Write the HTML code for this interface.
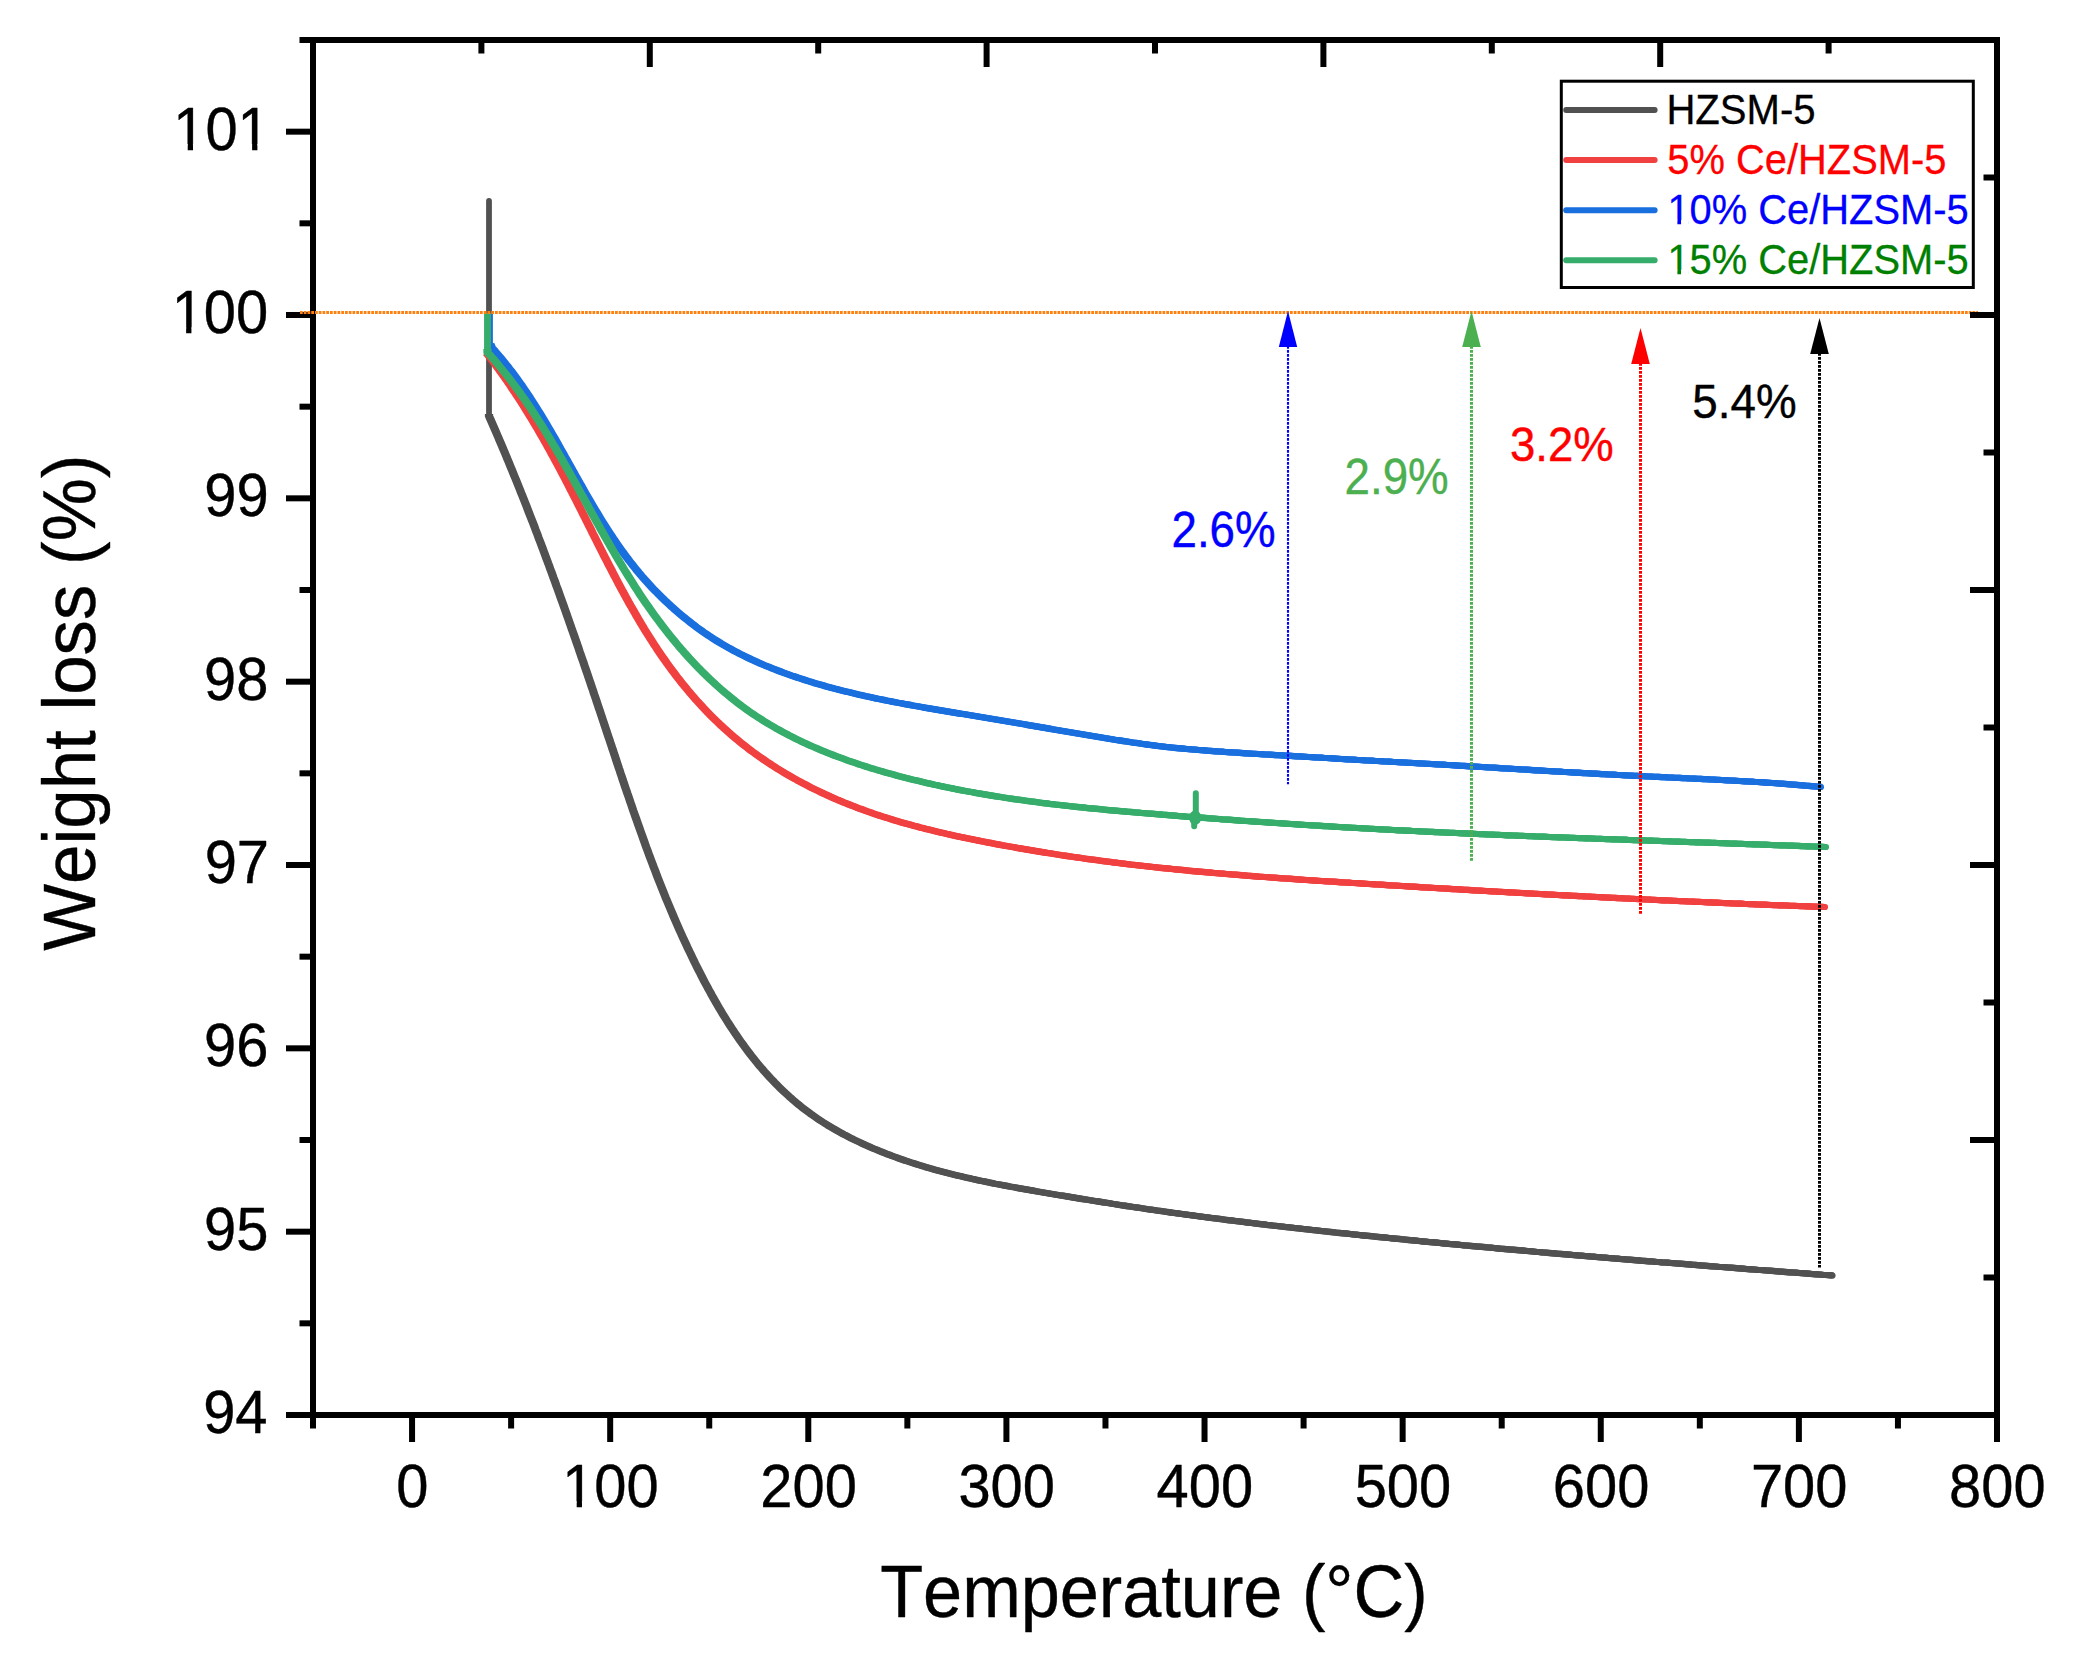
<!DOCTYPE html>
<html lang="en">
<head>
<meta charset="utf-8">
<title>TGA weight loss curves</title>
<style>
html,body{margin:0;padding:0;background:#fff;}
body{width:2081px;height:1671px;overflow:hidden;}
svg{display:block;}
</style>
</head>
<body>
<svg width="2081" height="1671" viewBox="0 0 2081 1671">
<rect x="0" y="0" width="2081" height="1671" fill="#ffffff"/>
<path d="M489 201 L489 418" fill="none" stroke="#515151" stroke-width="5.8" stroke-linecap="round"/>
<g fill="none" stroke="#515151" stroke-width="6.2" stroke-linejoin="round" stroke-linecap="butt">
<path d="M489.0 414.0 L489.0 416.0 L490.2 418.7 L491.4 421.4 L492.6 424.2 L493.8 426.9 L494.9 429.6 L496.1 432.3 L497.3 435.1 L498.5 437.8 L499.6 440.5 L500.8 443.3 L502.0 446.0 L503.1 448.8 L504.3 451.5 L505.4 454.2 L506.6 457.0 L507.7 459.8 L508.9 462.5 L510.0 465.3 L511.1 468.0 L512.3 470.8 L513.4 473.6 L514.5 476.3 L515.7 479.1 L516.8 481.9 L517.9 484.6 L519.0 487.4 L520.1 490.2 L521.2 493.0 L522.4 495.8 L523.5 498.6 L524.6 501.3 L525.7 504.1 L526.8 506.9 L527.8 509.7 L528.9 512.5 L530.0 515.3 L531.1 518.1 L532.2 520.9 L533.3 523.7 L534.4 526.5 L535.4 529.3 L536.5 532.1 L537.6 534.9 L538.6 537.8 L539.7 540.6 L540.8 543.4 L541.8 546.2 L542.9 549.0 L543.9 551.8 L545.0 554.7 L546.0 557.5 L547.1 560.3 L548.1 563.1 L549.2 565.9 L550.2 568.8 L551.3 571.6 L552.3 574.4 L553.3 577.3 L554.4 580.1 L555.4 582.9 L556.4 585.8 L557.5 588.6 L558.5 591.4 L559.5 594.3 L560.5 597.1 L561.5 599.9 L562.6 602.8 L563.6 605.6 L564.6 608.5 L565.6 611.3 L566.6 614.1 L567.6 617.0 L568.6 619.8 L569.6 622.7 L570.6 625.5 L571.6 628.4 L572.6 631.2 L573.6 634.1 L574.6 636.9 L575.6 639.8 L576.6 642.6 L577.6 645.5 L578.6 648.3 L579.5 651.2 L580.5 654.0 L581.5 656.9 L582.5 659.7 L583.5 662.6 L584.4 665.4 L585.4 668.3 L586.4 671.1 L587.4 674.0 L588.3 676.8 L589.3 679.7 L590.3 682.5 L591.2 685.4 L592.2 688.2 L593.2 691.1 L594.1 694.0 L595.1 696.8 L596.1 699.7 L597.0 702.5 L598.0 705.4 L598.9 708.2 L599.9 711.1 L600.8 713.9 L601.8 716.8 L602.7 719.6 L603.7 722.5 L604.6 725.3 L605.6 728.2 L606.5 731.0 L607.5 733.9 L608.4 736.7 L609.4 739.6 L610.3 742.4 L611.3 745.3 L612.2 748.1 L613.2 750.9 L614.1 753.8 L615.1 756.6 L616.0 759.5 L616.9 762.3 L617.9 765.2 L618.8 768.0 L619.8 770.8 L620.7 773.7 L621.7 776.5 L622.6 779.4 L623.6 782.2 L624.5 785.0 L625.5 787.9 L626.5 790.7 L627.4 793.5 L628.4 796.3 L629.4 799.2 L630.3 802.0 L631.3 804.8 L632.3 807.7 L633.2 810.5 L634.2 813.3 L635.2 816.1 L636.2 818.9 L637.2 821.8 L638.2 824.6 L639.2 827.4 L640.2 830.2 L641.2 833.0 L642.2 835.8 L643.2 838.6 L644.2 841.4 L645.2 844.3 L646.2 847.1 L647.3 849.9 L648.3 852.7 L649.3 855.5 L650.4 858.3 L651.4 861.0 L652.5 863.8 L653.5 866.6 L654.6 869.4 L655.7 872.2 L656.7 875.0 L657.8 877.8 L658.9 880.6 L660.0 883.3 L661.1 886.1 L662.2 888.9 L663.3 891.7 L664.4 894.4 L665.5 897.2 L666.7 900.0 L667.8 902.7 L669.0 905.5 L670.1 908.2 L671.3 911.0 L672.5 913.8 L673.6 916.5 L674.8 919.3 L676.0 922.0 L677.2 924.7 L678.4 927.5 L679.6 930.2 L680.9 933.0 L682.1 935.7 L683.3 938.4 L684.6 941.1 L685.9 943.9 L687.1 946.6 L688.4 949.3 L689.7 952.0 L691.0 954.7 L692.3 957.5 L693.6 960.2 L694.9 962.9 L696.3 965.6 L697.6 968.3 L699.0 971.0 L700.4 973.6 L701.7 976.3 L703.1 979.0 L704.5 981.7 L706.0 984.4 L707.4 987.0 L708.8 989.7 L710.3 992.3 L711.7 995.0 L713.2 997.6 L714.7 1000.3 L716.2 1002.9 L717.7 1005.5 L719.2 1008.1 L720.8 1010.7 L722.3 1013.3 L723.9 1015.9 L725.5 1018.4 L727.1 1021.0 L728.7 1023.5 L730.3 1026.0 L732.0 1028.6 L733.7 1031.1 L735.3 1033.6 L737.0 1036.1 L738.7 1038.5 L740.4 1041.0 L742.2 1043.4 L743.9 1045.8 L745.7 1048.3 L747.5 1050.7 L749.3 1053.0 L751.1 1055.4 L753.0 1057.7 L754.9 1060.1 L756.7 1062.4 L758.6 1064.7 L760.5 1067.0 L762.5 1069.2 L764.4 1071.5 L766.4 1073.7 L768.4 1075.9 L770.4 1078.1 L772.5 1080.2 L774.5 1082.4 L776.6 1084.5 L778.7 1086.6 L780.8 1088.7 L782.9 1090.7 L785.1 1092.8 L787.3 1094.8 L789.5 1096.8 L791.7 1098.7 L793.9 1100.7 L796.2 1102.6 L798.5 1104.5 L800.8 1106.4 L803.1 1108.2 L805.5 1110.0 L807.9 1111.8 L810.3 1113.6 L812.7 1115.3 L815.2 1117.0 L817.6 1118.7 L820.1 1120.4 L822.6 1122.0 L825.2 1123.6 L827.7 1125.2 L830.3 1126.7 L832.9 1128.3 L835.5 1129.8 L838.1 1131.3 L840.8 1132.7 L843.4 1134.2 L846.1 1135.6 L848.8 1137.0 L851.5 1138.4 L854.2 1139.7 L856.9 1141.0 L859.7 1142.3 L862.4 1143.6 L865.2 1144.9 L868.0 1146.1 L870.8 1147.4 L873.6 1148.6 L876.4 1149.7 L879.2 1150.9 L882.0 1152.0 L884.9 1153.2 L887.7 1154.3 L890.6 1155.3 L893.4 1156.4 L896.3 1157.4 L899.2 1158.5 L902.1 1159.5 L904.9 1160.5 L907.8 1161.4 L910.7 1162.4 L913.6 1163.3 L916.5 1164.2 L919.4 1165.1 L922.3 1166.0 L925.2 1166.9 L928.1 1167.7 L931.0 1168.6 L933.9 1169.4 L936.8 1170.2 L939.7 1171.0 L942.6 1171.7 L945.5 1172.5 L948.4 1173.3 L951.3 1174.0 L954.2 1174.7 L957.1 1175.4 L960.0 1176.1 L962.9 1176.8 L965.8 1177.5 L968.8 1178.1 L971.7 1178.8 L974.6 1179.4 L977.5 1180.1 L980.4 1180.7 L983.3 1181.3 L986.2 1181.9 L989.2 1182.5 L992.1 1183.1 L995.0 1183.7 L997.9 1184.2 L1000.8 1184.8 L1003.8 1185.4 L1006.7 1185.9 L1009.6 1186.5 L1012.5 1187.0 L1015.5 1187.5 L1018.4 1188.1 L1021.3 1188.6 L1024.2 1189.1 L1027.2 1189.6 L1030.1 1190.1 L1033.0 1190.6 L1036.0 1191.2 L1038.9 1191.7 L1041.8 1192.2 L1044.8 1192.7 L1047.7 1193.2 L1050.6 1193.7 L1053.6 1194.2 L1056.5 1194.7 L1059.4 1195.2 L1062.4 1195.6 L1065.3 1196.1 L1068.3 1196.6 L1071.2 1197.1 L1074.1 1197.6 L1077.1 1198.1 L1080.0 1198.6 L1083.0 1199.1 L1085.9 1199.5 L1088.9 1200.0 L1091.8 1200.5 L1094.7 1201.0 L1097.7 1201.4 L1100.6 1201.9 L1103.6 1202.4 L1106.5 1202.8 L1109.5 1203.3 L1112.4 1203.8 L1115.4 1204.2 L1118.3 1204.7 L1121.3 1205.2 L1124.3 1205.6 L1127.2 1206.1 L1130.2 1206.5 L1133.1 1207.0 L1136.1 1207.4 L1139.0 1207.8 L1142.0 1208.3 L1144.9 1208.7 L1147.9 1209.2 L1150.9 1209.6 L1153.8 1210.0 L1156.8 1210.5 L1159.7 1210.9 L1162.7 1211.3 L1165.7 1211.7 L1168.6 1212.1 L1171.6 1212.6 L1174.6 1213.0 L1177.5 1213.4 L1180.5 1213.8 L1183.4 1214.2 L1186.4 1214.6 L1189.4 1215.0 L1192.3 1215.4 L1195.3 1215.8 L1198.3 1216.2 L1201.2 1216.6 L1204.2 1217.0 L1207.2 1217.4 L1210.2 1217.8 L1213.1 1218.2 L1216.1 1218.5 L1219.1 1218.9 L1222.0 1219.3 L1225.0 1219.7 L1228.0 1220.1 L1231.0 1220.4 L1233.9 1220.8 L1236.9 1221.2 L1239.9 1221.5 L1242.9 1221.9 L1245.8 1222.3 L1248.8 1222.6 L1251.8 1223.0 L1254.8 1223.4 L1257.7 1223.7 L1260.7 1224.1 L1263.7 1224.4 L1266.7 1224.8 L1269.7 1225.1 L1272.6 1225.5 L1275.6 1225.8 L1278.6 1226.2 L1281.6 1226.5 L1284.6 1226.9 L1287.5 1227.2 L1290.5 1227.5 L1293.5 1227.9 L1296.5 1228.2 L1299.5 1228.5 L1302.5 1228.9 L1305.4 1229.2 L1308.4 1229.5 L1311.4 1229.9 L1314.4 1230.2 L1317.4 1230.5 L1320.4 1230.9 L1323.4 1231.2 L1326.3 1231.5 L1329.3 1231.8 L1332.3 1232.1 L1335.3 1232.5 L1338.3 1232.8 L1341.3 1233.1 L1344.3 1233.4 L1347.3 1233.7 L1350.2 1234.0 L1353.2 1234.4 L1356.2 1234.7 L1359.2 1235.0 L1362.2 1235.3 L1365.2 1235.6 L1368.2 1235.9 L1371.2 1236.2 L1374.2 1236.5 L1377.2 1236.8 L1380.2 1237.1 L1383.1 1237.4 L1386.1 1237.7 L1389.1 1238.0 L1392.1 1238.3 L1395.1 1238.6 L1398.1 1238.9 L1401.1 1239.2 L1404.1 1239.5 L1407.1 1239.8 L1410.1 1240.1 L1413.1 1240.4 L1416.1 1240.7 L1419.1 1241.0 L1422.1 1241.3 L1425.0 1241.6 L1428.0 1241.9 L1431.0 1242.1 L1434.0 1242.4 L1437.0 1242.7 L1440.0 1243.0 L1443.0 1243.3 L1446.0 1243.6 L1449.0 1243.9 L1452.0 1244.1 L1455.0 1244.4 L1458.0 1244.7 L1461.0 1245.0 L1464.0 1245.3 L1467.0 1245.5 L1470.0 1245.8 L1473.0 1246.1 L1476.0 1246.4 L1479.0 1246.6 L1482.0 1246.9 L1485.0 1247.2 L1488.0 1247.5 L1491.0 1247.7 L1494.0 1248.0 L1497.0 1248.3 L1500.0 1248.6 L1502.9 1248.8 L1505.9 1249.1 L1508.9 1249.4 L1511.9 1249.6 L1514.9 1249.9 L1517.9 1250.2 L1520.9 1250.4 L1523.9 1250.7 L1526.9 1251.0 L1529.9 1251.2 L1532.9 1251.5 L1535.9 1251.8 L1538.9 1252.0 L1541.9 1252.3 L1544.9 1252.5 L1547.9 1252.8 L1550.9 1253.1 L1553.9 1253.3 L1556.9 1253.6 L1559.9 1253.8 L1562.9 1254.1 L1565.9 1254.3 L1568.9 1254.6 L1571.9 1254.9 L1574.9 1255.1 L1577.9 1255.4 L1580.9 1255.6 L1583.9 1255.9 L1586.9 1256.1 L1589.9 1256.4 L1592.9 1256.6 L1595.8 1256.9 L1598.8 1257.1 L1601.8 1257.4 L1604.8 1257.6 L1607.8 1257.9 L1610.8 1258.1 L1613.8 1258.4 L1616.8 1258.6 L1619.8 1258.9 L1622.8 1259.1 L1625.8 1259.4 L1628.8 1259.6 L1631.8 1259.8 L1634.8 1260.1 L1637.8 1260.3 L1640.8 1260.6 L1643.8 1260.8 L1646.8 1261.1 L1649.7 1261.3 L1652.7 1261.5 L1655.7 1261.8 L1658.7 1262.0 L1661.7 1262.3 L1664.7 1262.5 L1667.7 1262.7 L1670.7 1263.0 L1673.7 1263.2 L1676.7 1263.5 L1679.7 1263.7 L1682.7 1263.9 L1685.6 1264.2 L1688.6 1264.4 L1691.6 1264.7 L1694.6 1264.9 L1697.6 1265.1 L1700.6 1265.4 L1703.6 1265.6 L1706.6 1265.8 L1709.6 1266.1 L1712.5 1266.3 L1715.5 1266.5 L1718.5 1266.8 L1721.5 1267.0 L1724.5 1267.2 L1727.5 1267.5 L1730.5 1267.7 L1733.4 1267.9 L1736.4 1268.2 L1739.4 1268.4 L1742.4 1268.6 L1745.4 1268.9 L1748.4 1269.1 L1751.3 1269.3 L1754.3 1269.5 L1757.3 1269.8 L1760.3 1270.0 L1763.3 1270.2 L1766.3 1270.5 L1769.2 1270.7 L1772.2 1270.9 L1775.2 1271.1 L1778.2 1271.4 L1781.2 1271.6 L1784.1 1271.8 L1787.1 1272.1 L1790.1 1272.3 L1793.1 1272.5 L1796.0 1272.7 L1799.0 1273.0 L1802.0 1273.2 L1805.0 1273.4 L1807.9 1273.6 L1810.9 1273.9 L1813.9 1274.1 L1816.9 1274.3 L1819.8 1274.5 L1822.8 1274.8 L1825.8 1275.0 L1828.8 1275.2 L1831.7 1275.4 L1832.5 1275.5"/>
<path transform="translate(-1.05 0)" d="M489.0 414.0 L489.0 416.0 L490.2 418.7 L491.4 421.4 L492.6 424.2 L493.8 426.9 L494.9 429.6 L496.1 432.3 L497.3 435.1 L498.5 437.8 L499.6 440.5 L500.8 443.3 L502.0 446.0 L503.1 448.8 L504.3 451.5 L505.4 454.2 L506.6 457.0 L507.7 459.8 L508.9 462.5 L510.0 465.3 L511.1 468.0 L512.3 470.8 L513.4 473.6 L514.5 476.3 L515.7 479.1 L516.8 481.9 L517.9 484.6 L519.0 487.4 L520.1 490.2 L521.2 493.0 L522.4 495.8 L523.5 498.6 L524.6 501.3 L525.7 504.1 L526.8 506.9 L527.8 509.7 L528.9 512.5 L530.0 515.3 L531.1 518.1 L532.2 520.9 L533.3 523.7 L534.4 526.5 L535.4 529.3 L536.5 532.1 L537.6 534.9 L538.6 537.8 L539.7 540.6 L540.8 543.4 L541.8 546.2 L542.9 549.0 L543.9 551.8 L545.0 554.7 L546.0 557.5 L547.1 560.3 L548.1 563.1 L549.2 565.9 L550.2 568.8 L551.3 571.6 L552.3 574.4 L553.3 577.3 L554.4 580.1 L555.4 582.9 L556.4 585.8 L557.5 588.6 L558.5 591.4 L559.5 594.3 L560.5 597.1 L561.5 599.9 L562.6 602.8 L563.6 605.6 L564.6 608.5 L565.6 611.3 L566.6 614.1 L567.6 617.0 L568.6 619.8 L569.6 622.7 L570.6 625.5 L571.6 628.4 L572.6 631.2 L573.6 634.1 L574.6 636.9 L575.6 639.8 L576.6 642.6 L577.6 645.5 L578.6 648.3 L579.5 651.2 L580.5 654.0 L581.5 656.9 L582.5 659.7 L583.5 662.6 L584.4 665.4 L585.4 668.3 L586.4 671.1 L587.4 674.0 L588.3 676.8 L589.3 679.7 L590.3 682.5 L591.2 685.4 L592.2 688.2 L593.2 691.1 L594.1 694.0 L595.1 696.8 L596.1 699.7 L597.0 702.5 L598.0 705.4 L598.9 708.2 L599.9 711.1 L600.8 713.9 L601.8 716.8 L602.7 719.6 L603.7 722.5 L604.6 725.3 L605.6 728.2 L606.5 731.0 L607.5 733.9 L608.4 736.7 L609.4 739.6 L610.3 742.4 L611.3 745.3 L612.2 748.1 L613.2 750.9 L614.1 753.8 L615.1 756.6 L616.0 759.5 L616.9 762.3 L617.9 765.2 L618.8 768.0 L619.8 770.8 L620.7 773.7 L621.7 776.5 L622.6 779.4 L623.6 782.2 L624.5 785.0 L625.5 787.9 L626.5 790.7 L627.4 793.5 L628.4 796.3 L629.4 799.2 L630.3 802.0 L631.3 804.8 L632.3 807.7 L633.2 810.5 L634.2 813.3 L635.2 816.1 L636.2 818.9 L637.2 821.8 L638.2 824.6 L639.2 827.4 L640.2 830.2 L641.2 833.0 L642.2 835.8 L643.2 838.6 L644.2 841.4 L645.2 844.3 L646.2 847.1 L647.3 849.9 L648.3 852.7 L649.3 855.5 L650.4 858.3 L651.4 861.0 L652.5 863.8 L653.5 866.6 L654.6 869.4 L655.7 872.2 L656.7 875.0 L657.8 877.8 L658.9 880.6 L660.0 883.3 L661.1 886.1 L662.2 888.9 L663.3 891.7 L664.4 894.4 L665.5 897.2 L666.7 900.0 L667.8 902.7 L669.0 905.5 L670.1 908.2 L671.3 911.0 L672.5 913.8 L673.6 916.5 L674.8 919.3 L676.0 922.0 L677.2 924.7 L678.4 927.5 L679.6 930.2 L680.9 933.0 L682.1 935.7 L683.3 938.4 L684.6 941.1 L685.9 943.9 L687.1 946.6 L688.4 949.3 L689.7 952.0 L691.0 954.7 L692.3 957.5 L693.6 960.2 L694.9 962.9 L696.3 965.6 L697.6 968.3 L699.0 971.0 L700.4 973.6 L701.7 976.3 L703.1 979.0 L704.5 981.7 L706.0 984.4 L707.4 987.0 L708.8 989.7 L710.3 992.3 L711.7 995.0 L713.2 997.6 L714.7 1000.3 L716.2 1002.9 L717.7 1005.5 L719.2 1008.1 L720.8 1010.7 L722.3 1013.3 L723.9 1015.9 L725.5 1018.4 L727.1 1021.0 L728.7 1023.5 L730.3 1026.0 L732.0 1028.6 L733.7 1031.1 L735.3 1033.6 L737.0 1036.1 L738.7 1038.5 L740.4 1041.0 L742.2 1043.4 L743.9 1045.8 L745.7 1048.3 L747.5 1050.7 L749.3 1053.0 L751.1 1055.4 L753.0 1057.7 L754.9 1060.1 L756.7 1062.4 L758.6 1064.7 L760.5 1067.0 L762.5 1069.2 L764.4 1071.5 L766.4 1073.7 L768.4 1075.9 L770.4 1078.1 L772.5 1080.2 L774.5 1082.4 L776.6 1084.5 L778.7 1086.6 L780.8 1088.7 L782.9 1090.7 L785.1 1092.8 L787.3 1094.8 L789.5 1096.8 L791.7 1098.7 L793.9 1100.7 L796.2 1102.6 L798.5 1104.5 L800.8 1106.4 L803.1 1108.2 L805.5 1110.0 L807.9 1111.8 L810.3 1113.6 L812.7 1115.3 L815.2 1117.0 L817.6 1118.7 L820.1 1120.4 L822.6 1122.0 L825.2 1123.6 L827.7 1125.2 L830.3 1126.7 L832.9 1128.3 L835.5 1129.8 L838.1 1131.3 L840.8 1132.7 L843.4 1134.2 L846.1 1135.6 L848.8 1137.0 L851.5 1138.4 L854.2 1139.7 L856.9 1141.0 L859.7 1142.3 L862.4 1143.6 L865.2 1144.9 L868.0 1146.1 L870.8 1147.4 L873.6 1148.6 L876.4 1149.7 L879.2 1150.9 L882.0 1152.0 L884.9 1153.2 L887.7 1154.3 L890.6 1155.3 L893.4 1156.4 L896.3 1157.4 L899.2 1158.5 L902.1 1159.5 L904.9 1160.5 L907.8 1161.4 L910.7 1162.4 L913.6 1163.3 L916.5 1164.2 L919.4 1165.1 L922.3 1166.0 L925.2 1166.9 L928.1 1167.7 L931.0 1168.6 L933.9 1169.4 L936.8 1170.2 L939.7 1171.0 L942.6 1171.7 L945.5 1172.5 L948.4 1173.3 L951.3 1174.0 L954.2 1174.7 L957.1 1175.4 L960.0 1176.1 L962.9 1176.8 L965.8 1177.5 L968.8 1178.1 L971.7 1178.8 L974.6 1179.4 L977.5 1180.1 L980.4 1180.7 L983.3 1181.3 L986.2 1181.9 L989.2 1182.5 L992.1 1183.1 L995.0 1183.7 L997.9 1184.2 L1000.8 1184.8 L1003.8 1185.4 L1006.7 1185.9 L1009.6 1186.5 L1012.5 1187.0 L1015.5 1187.5 L1018.4 1188.1 L1021.3 1188.6 L1024.2 1189.1 L1027.2 1189.6 L1030.1 1190.1 L1033.0 1190.6 L1036.0 1191.2 L1038.9 1191.7 L1041.8 1192.2 L1044.8 1192.7 L1047.7 1193.2 L1050.6 1193.7 L1053.6 1194.2 L1056.5 1194.7 L1059.4 1195.2 L1062.4 1195.6 L1065.3 1196.1 L1068.3 1196.6 L1071.2 1197.1 L1074.1 1197.6 L1077.1 1198.1 L1080.0 1198.6 L1083.0 1199.1 L1085.9 1199.5 L1088.9 1200.0 L1091.8 1200.5 L1094.7 1201.0 L1097.7 1201.4 L1100.6 1201.9 L1103.6 1202.4 L1106.5 1202.8 L1109.5 1203.3 L1112.4 1203.8 L1115.4 1204.2 L1118.3 1204.7 L1121.3 1205.2 L1124.3 1205.6 L1127.2 1206.1 L1130.2 1206.5 L1133.1 1207.0 L1136.1 1207.4 L1139.0 1207.8 L1142.0 1208.3 L1144.9 1208.7 L1147.9 1209.2 L1150.9 1209.6 L1153.8 1210.0 L1156.8 1210.5 L1159.7 1210.9 L1162.7 1211.3 L1165.7 1211.7 L1168.6 1212.1 L1171.6 1212.6 L1174.6 1213.0 L1177.5 1213.4 L1180.5 1213.8 L1183.4 1214.2 L1186.4 1214.6 L1189.4 1215.0 L1192.3 1215.4 L1195.3 1215.8 L1198.3 1216.2 L1201.2 1216.6 L1204.2 1217.0 L1207.2 1217.4 L1210.2 1217.8 L1213.1 1218.2 L1216.1 1218.5 L1219.1 1218.9 L1222.0 1219.3 L1225.0 1219.7 L1228.0 1220.1 L1231.0 1220.4 L1233.9 1220.8 L1236.9 1221.2 L1239.9 1221.5 L1242.9 1221.9 L1245.8 1222.3 L1248.8 1222.6 L1251.8 1223.0 L1254.8 1223.4 L1257.7 1223.7 L1260.7 1224.1 L1263.7 1224.4 L1266.7 1224.8 L1269.7 1225.1 L1272.6 1225.5 L1275.6 1225.8 L1278.6 1226.2 L1281.6 1226.5 L1284.6 1226.9 L1287.5 1227.2 L1290.5 1227.5 L1293.5 1227.9 L1296.5 1228.2 L1299.5 1228.5 L1302.5 1228.9 L1305.4 1229.2 L1308.4 1229.5 L1311.4 1229.9 L1314.4 1230.2 L1317.4 1230.5 L1320.4 1230.9 L1323.4 1231.2 L1326.3 1231.5 L1329.3 1231.8 L1332.3 1232.1 L1335.3 1232.5 L1338.3 1232.8 L1341.3 1233.1 L1344.3 1233.4 L1347.3 1233.7 L1350.2 1234.0 L1353.2 1234.4 L1356.2 1234.7 L1359.2 1235.0 L1362.2 1235.3 L1365.2 1235.6 L1368.2 1235.9 L1371.2 1236.2 L1374.2 1236.5 L1377.2 1236.8 L1380.2 1237.1 L1383.1 1237.4 L1386.1 1237.7 L1389.1 1238.0 L1392.1 1238.3 L1395.1 1238.6 L1398.1 1238.9 L1401.1 1239.2 L1404.1 1239.5 L1407.1 1239.8 L1410.1 1240.1 L1413.1 1240.4 L1416.1 1240.7 L1419.1 1241.0 L1422.1 1241.3 L1425.0 1241.6 L1428.0 1241.9 L1431.0 1242.1 L1434.0 1242.4 L1437.0 1242.7 L1440.0 1243.0 L1443.0 1243.3 L1446.0 1243.6 L1449.0 1243.9 L1452.0 1244.1 L1455.0 1244.4 L1458.0 1244.7 L1461.0 1245.0 L1464.0 1245.3 L1467.0 1245.5 L1470.0 1245.8 L1473.0 1246.1 L1476.0 1246.4 L1479.0 1246.6 L1482.0 1246.9 L1485.0 1247.2 L1488.0 1247.5 L1491.0 1247.7 L1494.0 1248.0 L1497.0 1248.3 L1500.0 1248.6 L1502.9 1248.8 L1505.9 1249.1 L1508.9 1249.4 L1511.9 1249.6 L1514.9 1249.9 L1517.9 1250.2 L1520.9 1250.4 L1523.9 1250.7 L1526.9 1251.0 L1529.9 1251.2 L1532.9 1251.5 L1535.9 1251.8 L1538.9 1252.0 L1541.9 1252.3 L1544.9 1252.5 L1547.9 1252.8 L1550.9 1253.1 L1553.9 1253.3 L1556.9 1253.6 L1559.9 1253.8 L1562.9 1254.1 L1565.9 1254.3 L1568.9 1254.6 L1571.9 1254.9 L1574.9 1255.1 L1577.9 1255.4 L1580.9 1255.6 L1583.9 1255.9 L1586.9 1256.1 L1589.9 1256.4 L1592.9 1256.6 L1595.8 1256.9 L1598.8 1257.1 L1601.8 1257.4 L1604.8 1257.6 L1607.8 1257.9 L1610.8 1258.1 L1613.8 1258.4 L1616.8 1258.6 L1619.8 1258.9 L1622.8 1259.1 L1625.8 1259.4 L1628.8 1259.6 L1631.8 1259.8 L1634.8 1260.1 L1637.8 1260.3 L1640.8 1260.6 L1643.8 1260.8 L1646.8 1261.1 L1649.7 1261.3 L1652.7 1261.5 L1655.7 1261.8 L1658.7 1262.0 L1661.7 1262.3 L1664.7 1262.5 L1667.7 1262.7 L1670.7 1263.0 L1673.7 1263.2 L1676.7 1263.5 L1679.7 1263.7 L1682.7 1263.9 L1685.6 1264.2 L1688.6 1264.4 L1691.6 1264.7 L1694.6 1264.9 L1697.6 1265.1 L1700.6 1265.4 L1703.6 1265.6 L1706.6 1265.8 L1709.6 1266.1 L1712.5 1266.3 L1715.5 1266.5 L1718.5 1266.8 L1721.5 1267.0 L1724.5 1267.2 L1727.5 1267.5 L1730.5 1267.7 L1733.4 1267.9 L1736.4 1268.2 L1739.4 1268.4 L1742.4 1268.6 L1745.4 1268.9 L1748.4 1269.1 L1751.3 1269.3 L1754.3 1269.5 L1757.3 1269.8 L1760.3 1270.0 L1763.3 1270.2 L1766.3 1270.5 L1769.2 1270.7 L1772.2 1270.9 L1775.2 1271.1 L1778.2 1271.4 L1781.2 1271.6 L1784.1 1271.8 L1787.1 1272.1 L1790.1 1272.3 L1793.1 1272.5 L1796.0 1272.7 L1799.0 1273.0 L1802.0 1273.2 L1805.0 1273.4 L1807.9 1273.6 L1810.9 1273.9 L1813.9 1274.1 L1816.9 1274.3 L1819.8 1274.5 L1822.8 1274.8 L1825.8 1275.0 L1828.8 1275.2 L1831.7 1275.4 L1832.5 1275.5"/>
<path transform="translate(1.05 0)" d="M489.0 414.0 L489.0 416.0 L490.2 418.7 L491.4 421.4 L492.6 424.2 L493.8 426.9 L494.9 429.6 L496.1 432.3 L497.3 435.1 L498.5 437.8 L499.6 440.5 L500.8 443.3 L502.0 446.0 L503.1 448.8 L504.3 451.5 L505.4 454.2 L506.6 457.0 L507.7 459.8 L508.9 462.5 L510.0 465.3 L511.1 468.0 L512.3 470.8 L513.4 473.6 L514.5 476.3 L515.7 479.1 L516.8 481.9 L517.9 484.6 L519.0 487.4 L520.1 490.2 L521.2 493.0 L522.4 495.8 L523.5 498.6 L524.6 501.3 L525.7 504.1 L526.8 506.9 L527.8 509.7 L528.9 512.5 L530.0 515.3 L531.1 518.1 L532.2 520.9 L533.3 523.7 L534.4 526.5 L535.4 529.3 L536.5 532.1 L537.6 534.9 L538.6 537.8 L539.7 540.6 L540.8 543.4 L541.8 546.2 L542.9 549.0 L543.9 551.8 L545.0 554.7 L546.0 557.5 L547.1 560.3 L548.1 563.1 L549.2 565.9 L550.2 568.8 L551.3 571.6 L552.3 574.4 L553.3 577.3 L554.4 580.1 L555.4 582.9 L556.4 585.8 L557.5 588.6 L558.5 591.4 L559.5 594.3 L560.5 597.1 L561.5 599.9 L562.6 602.8 L563.6 605.6 L564.6 608.5 L565.6 611.3 L566.6 614.1 L567.6 617.0 L568.6 619.8 L569.6 622.7 L570.6 625.5 L571.6 628.4 L572.6 631.2 L573.6 634.1 L574.6 636.9 L575.6 639.8 L576.6 642.6 L577.6 645.5 L578.6 648.3 L579.5 651.2 L580.5 654.0 L581.5 656.9 L582.5 659.7 L583.5 662.6 L584.4 665.4 L585.4 668.3 L586.4 671.1 L587.4 674.0 L588.3 676.8 L589.3 679.7 L590.3 682.5 L591.2 685.4 L592.2 688.2 L593.2 691.1 L594.1 694.0 L595.1 696.8 L596.1 699.7 L597.0 702.5 L598.0 705.4 L598.9 708.2 L599.9 711.1 L600.8 713.9 L601.8 716.8 L602.7 719.6 L603.7 722.5 L604.6 725.3 L605.6 728.2 L606.5 731.0 L607.5 733.9 L608.4 736.7 L609.4 739.6 L610.3 742.4 L611.3 745.3 L612.2 748.1 L613.2 750.9 L614.1 753.8 L615.1 756.6 L616.0 759.5 L616.9 762.3 L617.9 765.2 L618.8 768.0 L619.8 770.8 L620.7 773.7 L621.7 776.5 L622.6 779.4 L623.6 782.2 L624.5 785.0 L625.5 787.9 L626.5 790.7 L627.4 793.5 L628.4 796.3 L629.4 799.2 L630.3 802.0 L631.3 804.8 L632.3 807.7 L633.2 810.5 L634.2 813.3 L635.2 816.1 L636.2 818.9 L637.2 821.8 L638.2 824.6 L639.2 827.4 L640.2 830.2 L641.2 833.0 L642.2 835.8 L643.2 838.6 L644.2 841.4 L645.2 844.3 L646.2 847.1 L647.3 849.9 L648.3 852.7 L649.3 855.5 L650.4 858.3 L651.4 861.0 L652.5 863.8 L653.5 866.6 L654.6 869.4 L655.7 872.2 L656.7 875.0 L657.8 877.8 L658.9 880.6 L660.0 883.3 L661.1 886.1 L662.2 888.9 L663.3 891.7 L664.4 894.4 L665.5 897.2 L666.7 900.0 L667.8 902.7 L669.0 905.5 L670.1 908.2 L671.3 911.0 L672.5 913.8 L673.6 916.5 L674.8 919.3 L676.0 922.0 L677.2 924.7 L678.4 927.5 L679.6 930.2 L680.9 933.0 L682.1 935.7 L683.3 938.4 L684.6 941.1 L685.9 943.9 L687.1 946.6 L688.4 949.3 L689.7 952.0 L691.0 954.7 L692.3 957.5 L693.6 960.2 L694.9 962.9 L696.3 965.6 L697.6 968.3 L699.0 971.0 L700.4 973.6 L701.7 976.3 L703.1 979.0 L704.5 981.7 L706.0 984.4 L707.4 987.0 L708.8 989.7 L710.3 992.3 L711.7 995.0 L713.2 997.6 L714.7 1000.3 L716.2 1002.9 L717.7 1005.5 L719.2 1008.1 L720.8 1010.7 L722.3 1013.3 L723.9 1015.9 L725.5 1018.4 L727.1 1021.0 L728.7 1023.5 L730.3 1026.0 L732.0 1028.6 L733.7 1031.1 L735.3 1033.6 L737.0 1036.1 L738.7 1038.5 L740.4 1041.0 L742.2 1043.4 L743.9 1045.8 L745.7 1048.3 L747.5 1050.7 L749.3 1053.0 L751.1 1055.4 L753.0 1057.7 L754.9 1060.1 L756.7 1062.4 L758.6 1064.7 L760.5 1067.0 L762.5 1069.2 L764.4 1071.5 L766.4 1073.7 L768.4 1075.9 L770.4 1078.1 L772.5 1080.2 L774.5 1082.4 L776.6 1084.5 L778.7 1086.6 L780.8 1088.7 L782.9 1090.7 L785.1 1092.8 L787.3 1094.8 L789.5 1096.8 L791.7 1098.7 L793.9 1100.7 L796.2 1102.6 L798.5 1104.5 L800.8 1106.4 L803.1 1108.2 L805.5 1110.0 L807.9 1111.8 L810.3 1113.6 L812.7 1115.3 L815.2 1117.0 L817.6 1118.7 L820.1 1120.4 L822.6 1122.0 L825.2 1123.6 L827.7 1125.2 L830.3 1126.7 L832.9 1128.3 L835.5 1129.8 L838.1 1131.3 L840.8 1132.7 L843.4 1134.2 L846.1 1135.6 L848.8 1137.0 L851.5 1138.4 L854.2 1139.7 L856.9 1141.0 L859.7 1142.3 L862.4 1143.6 L865.2 1144.9 L868.0 1146.1 L870.8 1147.4 L873.6 1148.6 L876.4 1149.7 L879.2 1150.9 L882.0 1152.0 L884.9 1153.2 L887.7 1154.3 L890.6 1155.3 L893.4 1156.4 L896.3 1157.4 L899.2 1158.5 L902.1 1159.5 L904.9 1160.5 L907.8 1161.4 L910.7 1162.4 L913.6 1163.3 L916.5 1164.2 L919.4 1165.1 L922.3 1166.0 L925.2 1166.9 L928.1 1167.7 L931.0 1168.6 L933.9 1169.4 L936.8 1170.2 L939.7 1171.0 L942.6 1171.7 L945.5 1172.5 L948.4 1173.3 L951.3 1174.0 L954.2 1174.7 L957.1 1175.4 L960.0 1176.1 L962.9 1176.8 L965.8 1177.5 L968.8 1178.1 L971.7 1178.8 L974.6 1179.4 L977.5 1180.1 L980.4 1180.7 L983.3 1181.3 L986.2 1181.9 L989.2 1182.5 L992.1 1183.1 L995.0 1183.7 L997.9 1184.2 L1000.8 1184.8 L1003.8 1185.4 L1006.7 1185.9 L1009.6 1186.5 L1012.5 1187.0 L1015.5 1187.5 L1018.4 1188.1 L1021.3 1188.6 L1024.2 1189.1 L1027.2 1189.6 L1030.1 1190.1 L1033.0 1190.6 L1036.0 1191.2 L1038.9 1191.7 L1041.8 1192.2 L1044.8 1192.7 L1047.7 1193.2 L1050.6 1193.7 L1053.6 1194.2 L1056.5 1194.7 L1059.4 1195.2 L1062.4 1195.6 L1065.3 1196.1 L1068.3 1196.6 L1071.2 1197.1 L1074.1 1197.6 L1077.1 1198.1 L1080.0 1198.6 L1083.0 1199.1 L1085.9 1199.5 L1088.9 1200.0 L1091.8 1200.5 L1094.7 1201.0 L1097.7 1201.4 L1100.6 1201.9 L1103.6 1202.4 L1106.5 1202.8 L1109.5 1203.3 L1112.4 1203.8 L1115.4 1204.2 L1118.3 1204.7 L1121.3 1205.2 L1124.3 1205.6 L1127.2 1206.1 L1130.2 1206.5 L1133.1 1207.0 L1136.1 1207.4 L1139.0 1207.8 L1142.0 1208.3 L1144.9 1208.7 L1147.9 1209.2 L1150.9 1209.6 L1153.8 1210.0 L1156.8 1210.5 L1159.7 1210.9 L1162.7 1211.3 L1165.7 1211.7 L1168.6 1212.1 L1171.6 1212.6 L1174.6 1213.0 L1177.5 1213.4 L1180.5 1213.8 L1183.4 1214.2 L1186.4 1214.6 L1189.4 1215.0 L1192.3 1215.4 L1195.3 1215.8 L1198.3 1216.2 L1201.2 1216.6 L1204.2 1217.0 L1207.2 1217.4 L1210.2 1217.8 L1213.1 1218.2 L1216.1 1218.5 L1219.1 1218.9 L1222.0 1219.3 L1225.0 1219.7 L1228.0 1220.1 L1231.0 1220.4 L1233.9 1220.8 L1236.9 1221.2 L1239.9 1221.5 L1242.9 1221.9 L1245.8 1222.3 L1248.8 1222.6 L1251.8 1223.0 L1254.8 1223.4 L1257.7 1223.7 L1260.7 1224.1 L1263.7 1224.4 L1266.7 1224.8 L1269.7 1225.1 L1272.6 1225.5 L1275.6 1225.8 L1278.6 1226.2 L1281.6 1226.5 L1284.6 1226.9 L1287.5 1227.2 L1290.5 1227.5 L1293.5 1227.9 L1296.5 1228.2 L1299.5 1228.5 L1302.5 1228.9 L1305.4 1229.2 L1308.4 1229.5 L1311.4 1229.9 L1314.4 1230.2 L1317.4 1230.5 L1320.4 1230.9 L1323.4 1231.2 L1326.3 1231.5 L1329.3 1231.8 L1332.3 1232.1 L1335.3 1232.5 L1338.3 1232.8 L1341.3 1233.1 L1344.3 1233.4 L1347.3 1233.7 L1350.2 1234.0 L1353.2 1234.4 L1356.2 1234.7 L1359.2 1235.0 L1362.2 1235.3 L1365.2 1235.6 L1368.2 1235.9 L1371.2 1236.2 L1374.2 1236.5 L1377.2 1236.8 L1380.2 1237.1 L1383.1 1237.4 L1386.1 1237.7 L1389.1 1238.0 L1392.1 1238.3 L1395.1 1238.6 L1398.1 1238.9 L1401.1 1239.2 L1404.1 1239.5 L1407.1 1239.8 L1410.1 1240.1 L1413.1 1240.4 L1416.1 1240.7 L1419.1 1241.0 L1422.1 1241.3 L1425.0 1241.6 L1428.0 1241.9 L1431.0 1242.1 L1434.0 1242.4 L1437.0 1242.7 L1440.0 1243.0 L1443.0 1243.3 L1446.0 1243.6 L1449.0 1243.9 L1452.0 1244.1 L1455.0 1244.4 L1458.0 1244.7 L1461.0 1245.0 L1464.0 1245.3 L1467.0 1245.5 L1470.0 1245.8 L1473.0 1246.1 L1476.0 1246.4 L1479.0 1246.6 L1482.0 1246.9 L1485.0 1247.2 L1488.0 1247.5 L1491.0 1247.7 L1494.0 1248.0 L1497.0 1248.3 L1500.0 1248.6 L1502.9 1248.8 L1505.9 1249.1 L1508.9 1249.4 L1511.9 1249.6 L1514.9 1249.9 L1517.9 1250.2 L1520.9 1250.4 L1523.9 1250.7 L1526.9 1251.0 L1529.9 1251.2 L1532.9 1251.5 L1535.9 1251.8 L1538.9 1252.0 L1541.9 1252.3 L1544.9 1252.5 L1547.9 1252.8 L1550.9 1253.1 L1553.9 1253.3 L1556.9 1253.6 L1559.9 1253.8 L1562.9 1254.1 L1565.9 1254.3 L1568.9 1254.6 L1571.9 1254.9 L1574.9 1255.1 L1577.9 1255.4 L1580.9 1255.6 L1583.9 1255.9 L1586.9 1256.1 L1589.9 1256.4 L1592.9 1256.6 L1595.8 1256.9 L1598.8 1257.1 L1601.8 1257.4 L1604.8 1257.6 L1607.8 1257.9 L1610.8 1258.1 L1613.8 1258.4 L1616.8 1258.6 L1619.8 1258.9 L1622.8 1259.1 L1625.8 1259.4 L1628.8 1259.6 L1631.8 1259.8 L1634.8 1260.1 L1637.8 1260.3 L1640.8 1260.6 L1643.8 1260.8 L1646.8 1261.1 L1649.7 1261.3 L1652.7 1261.5 L1655.7 1261.8 L1658.7 1262.0 L1661.7 1262.3 L1664.7 1262.5 L1667.7 1262.7 L1670.7 1263.0 L1673.7 1263.2 L1676.7 1263.5 L1679.7 1263.7 L1682.7 1263.9 L1685.6 1264.2 L1688.6 1264.4 L1691.6 1264.7 L1694.6 1264.9 L1697.6 1265.1 L1700.6 1265.4 L1703.6 1265.6 L1706.6 1265.8 L1709.6 1266.1 L1712.5 1266.3 L1715.5 1266.5 L1718.5 1266.8 L1721.5 1267.0 L1724.5 1267.2 L1727.5 1267.5 L1730.5 1267.7 L1733.4 1267.9 L1736.4 1268.2 L1739.4 1268.4 L1742.4 1268.6 L1745.4 1268.9 L1748.4 1269.1 L1751.3 1269.3 L1754.3 1269.5 L1757.3 1269.8 L1760.3 1270.0 L1763.3 1270.2 L1766.3 1270.5 L1769.2 1270.7 L1772.2 1270.9 L1775.2 1271.1 L1778.2 1271.4 L1781.2 1271.6 L1784.1 1271.8 L1787.1 1272.1 L1790.1 1272.3 L1793.1 1272.5 L1796.0 1272.7 L1799.0 1273.0 L1802.0 1273.2 L1805.0 1273.4 L1807.9 1273.6 L1810.9 1273.9 L1813.9 1274.1 L1816.9 1274.3 L1819.8 1274.5 L1822.8 1274.8 L1825.8 1275.0 L1828.8 1275.2 L1831.7 1275.4 L1832.5 1275.5"/>
</g>
<circle cx="1832.5" cy="1275.5" r="3.1" fill="#515151"/>
<g fill="none" stroke="#F14040" stroke-width="6.2" stroke-linejoin="round" stroke-linecap="butt">
<path d="M486.5 353.0 L488.4 355.4 L490.2 357.7 L492.0 360.1 L493.8 362.5 L495.6 364.9 L497.4 367.3 L499.2 369.7 L500.9 372.2 L502.7 374.6 L504.4 377.0 L506.1 379.5 L507.9 381.9 L509.6 384.4 L511.2 386.9 L512.9 389.4 L514.6 391.9 L516.2 394.4 L517.9 396.9 L519.5 399.4 L521.1 401.9 L522.7 404.4 L524.3 407.0 L525.9 409.5 L527.5 412.0 L529.1 414.6 L530.6 417.2 L532.2 419.7 L533.7 422.3 L535.3 424.9 L536.8 427.5 L538.3 430.0 L539.8 432.6 L541.3 435.2 L542.8 437.8 L544.3 440.4 L545.8 443.1 L547.3 445.7 L548.7 448.3 L550.2 450.9 L551.6 453.6 L553.1 456.2 L554.5 458.8 L555.9 461.5 L557.4 464.1 L558.8 466.8 L560.2 469.4 L561.6 472.1 L563.0 474.7 L564.4 477.4 L565.8 480.0 L567.2 482.7 L568.6 485.4 L569.9 488.0 L571.3 490.7 L572.7 493.4 L574.0 496.1 L575.4 498.7 L576.8 501.4 L578.1 504.1 L579.5 506.8 L580.8 509.4 L582.2 512.1 L583.5 514.8 L584.9 517.5 L586.2 520.2 L587.6 522.9 L588.9 525.5 L590.3 528.2 L591.6 530.9 L592.9 533.6 L594.3 536.3 L595.6 538.9 L597.0 541.6 L598.3 544.3 L599.7 547.0 L601.0 549.6 L602.4 552.3 L603.7 555.0 L605.1 557.7 L606.5 560.3 L607.8 563.0 L609.2 565.7 L610.6 568.3 L612.0 571.0 L613.3 573.6 L614.7 576.3 L616.1 578.9 L617.5 581.6 L618.9 584.2 L620.3 586.9 L621.7 589.5 L623.2 592.1 L624.6 594.8 L626.0 597.4 L627.5 600.0 L628.9 602.6 L630.4 605.2 L631.9 607.8 L633.4 610.4 L634.9 613.0 L636.4 615.6 L637.9 618.2 L639.4 620.8 L640.9 623.4 L642.5 625.9 L644.0 628.5 L645.6 631.1 L647.2 633.6 L648.8 636.1 L650.4 638.7 L652.0 641.2 L653.6 643.7 L655.3 646.2 L656.9 648.7 L658.6 651.2 L660.3 653.7 L662.0 656.2 L663.7 658.6 L665.4 661.1 L667.1 663.5 L668.9 666.0 L670.7 668.4 L672.5 670.8 L674.3 673.2 L676.1 675.6 L677.9 678.0 L679.8 680.3 L681.6 682.7 L683.5 685.0 L685.4 687.3 L687.3 689.6 L689.2 691.9 L691.2 694.2 L693.2 696.5 L695.1 698.8 L697.1 701.0 L699.1 703.2 L701.2 705.4 L703.2 707.6 L705.3 709.8 L707.3 712.0 L709.4 714.1 L711.5 716.3 L713.7 718.4 L715.8 720.5 L718.0 722.5 L720.1 724.6 L722.3 726.6 L724.5 728.7 L726.8 730.7 L729.0 732.7 L731.2 734.6 L733.5 736.6 L735.8 738.5 L738.1 740.4 L740.4 742.3 L742.8 744.2 L745.1 746.0 L747.5 747.9 L749.8 749.7 L752.2 751.5 L754.7 753.2 L757.1 755.0 L759.5 756.7 L762.0 758.4 L764.4 760.1 L766.9 761.8 L769.4 763.4 L771.9 765.1 L774.4 766.7 L776.9 768.3 L779.5 769.9 L782.0 771.4 L784.6 773.0 L787.2 774.5 L789.8 776.0 L792.4 777.5 L795.0 778.9 L797.6 780.4 L800.2 781.8 L802.9 783.2 L805.5 784.6 L808.2 786.0 L810.9 787.4 L813.5 788.7 L816.2 790.0 L818.9 791.3 L821.6 792.6 L824.3 793.9 L827.1 795.1 L829.8 796.4 L832.5 797.6 L835.3 798.8 L838.0 800.0 L840.8 801.1 L843.5 802.3 L846.3 803.4 L849.1 804.5 L851.9 805.6 L854.7 806.7 L857.5 807.8 L860.2 808.8 L863.1 809.8 L865.9 810.9 L868.7 811.9 L871.5 812.8 L874.3 813.8 L877.1 814.8 L880.0 815.7 L882.8 816.6 L885.6 817.5 L888.5 818.4 L891.3 819.3 L894.2 820.2 L897.0 821.0 L899.9 821.9 L902.8 822.7 L905.6 823.5 L908.5 824.3 L911.4 825.1 L914.3 825.9 L917.2 826.6 L920.0 827.4 L922.9 828.1 L925.8 828.9 L928.7 829.6 L931.6 830.3 L934.5 831.0 L937.4 831.7 L940.4 832.4 L943.3 833.1 L946.2 833.8 L949.1 834.4 L952.0 835.1 L955.0 835.7 L957.9 836.4 L960.8 837.0 L963.8 837.6 L966.7 838.2 L969.6 838.8 L972.6 839.4 L975.5 840.0 L978.5 840.6 L981.4 841.2 L984.4 841.8 L987.3 842.4 L990.3 842.9 L993.2 843.5 L996.2 844.1 L999.2 844.6 L1002.1 845.2 L1005.1 845.7 L1008.1 846.3 L1011.0 846.8 L1014.0 847.3 L1017.0 847.9 L1020.0 848.4 L1022.9 848.9 L1025.9 849.4 L1028.9 849.9 L1031.9 850.4 L1034.8 850.9 L1037.8 851.4 L1040.8 851.9 L1043.8 852.4 L1046.8 852.9 L1049.8 853.3 L1052.8 853.8 L1055.7 854.3 L1058.7 854.7 L1061.7 855.2 L1064.7 855.6 L1067.7 856.1 L1070.7 856.5 L1073.7 857.0 L1076.7 857.4 L1079.7 857.8 L1082.7 858.3 L1085.6 858.7 L1088.6 859.1 L1091.6 859.5 L1094.6 859.9 L1097.6 860.3 L1100.6 860.7 L1103.6 861.1 L1106.6 861.5 L1109.6 861.9 L1112.6 862.3 L1115.6 862.6 L1118.5 863.0 L1121.5 863.4 L1124.5 863.7 L1127.5 864.1 L1130.5 864.5 L1133.5 864.8 L1136.5 865.2 L1139.5 865.5 L1142.4 865.8 L1145.4 866.2 L1148.4 866.5 L1151.4 866.8 L1154.4 867.2 L1157.4 867.5 L1160.3 867.8 L1163.3 868.1 L1166.3 868.4 L1169.3 868.7 L1172.3 869.0 L1175.3 869.3 L1178.2 869.6 L1181.2 869.9 L1184.2 870.2 L1187.2 870.5 L1190.2 870.8 L1193.2 871.1 L1196.1 871.3 L1199.1 871.6 L1202.1 871.9 L1205.1 872.2 L1208.1 872.4 L1211.0 872.7 L1214.0 873.0 L1217.0 873.2 L1220.0 873.5 L1223.0 873.7 L1225.9 874.0 L1228.9 874.2 L1231.9 874.5 L1234.9 874.7 L1237.9 874.9 L1240.8 875.2 L1243.8 875.4 L1246.8 875.7 L1249.8 875.9 L1252.8 876.1 L1255.7 876.3 L1258.7 876.6 L1261.7 876.8 L1264.7 877.0 L1267.7 877.2 L1270.6 877.5 L1273.6 877.7 L1276.6 877.9 L1279.6 878.1 L1282.6 878.3 L1285.5 878.5 L1288.5 878.7 L1291.5 878.9 L1294.5 879.2 L1297.5 879.4 L1300.4 879.6 L1303.4 879.8 L1306.4 880.0 L1309.4 880.2 L1312.4 880.4 L1315.4 880.6 L1318.3 880.8 L1321.3 881.0 L1324.3 881.1 L1327.3 881.3 L1330.3 881.5 L1333.3 881.7 L1336.2 881.9 L1339.2 882.1 L1342.2 882.3 L1345.2 882.5 L1348.2 882.7 L1351.2 882.9 L1354.1 883.0 L1357.1 883.2 L1360.1 883.4 L1363.1 883.6 L1366.1 883.8 L1369.1 884.0 L1372.1 884.2 L1375.1 884.4 L1378.0 884.5 L1381.0 884.7 L1384.0 884.9 L1387.0 885.1 L1390.0 885.3 L1393.0 885.5 L1396.0 885.6 L1399.0 885.8 L1402.0 886.0 L1405.0 886.2 L1408.0 886.4 L1410.9 886.6 L1413.9 886.7 L1416.9 886.9 L1419.9 887.1 L1422.9 887.3 L1425.9 887.5 L1428.9 887.6 L1431.9 887.8 L1434.9 888.0 L1437.9 888.2 L1440.9 888.3 L1443.9 888.5 L1446.9 888.7 L1449.9 888.9 L1452.9 889.1 L1455.9 889.2 L1458.9 889.4 L1461.8 889.6 L1464.8 889.8 L1467.8 889.9 L1470.8 890.1 L1473.8 890.3 L1476.8 890.5 L1479.8 890.6 L1482.8 890.8 L1485.8 891.0 L1488.8 891.1 L1491.8 891.3 L1494.8 891.5 L1497.8 891.7 L1500.8 891.8 L1503.8 892.0 L1506.8 892.2 L1509.8 892.3 L1512.8 892.5 L1515.8 892.7 L1518.8 892.8 L1521.8 893.0 L1524.8 893.2 L1527.8 893.3 L1530.8 893.5 L1533.8 893.7 L1536.8 893.8 L1539.8 894.0 L1542.8 894.1 L1545.8 894.3 L1548.8 894.5 L1551.8 894.6 L1554.8 894.8 L1557.8 895.0 L1560.8 895.1 L1563.8 895.3 L1566.8 895.4 L1569.8 895.6 L1572.8 895.8 L1575.8 895.9 L1578.8 896.1 L1581.8 896.2 L1584.8 896.4 L1587.8 896.5 L1590.8 896.7 L1593.8 896.8 L1596.8 897.0 L1599.8 897.2 L1602.8 897.3 L1605.8 897.5 L1608.8 897.6 L1611.8 897.8 L1614.8 897.9 L1617.8 898.1 L1620.8 898.2 L1623.9 898.4 L1626.9 898.5 L1629.9 898.7 L1632.9 898.8 L1635.9 899.0 L1638.9 899.1 L1641.9 899.2 L1644.9 899.4 L1647.9 899.5 L1650.9 899.7 L1653.9 899.8 L1656.9 900.0 L1659.9 900.1 L1662.9 900.3 L1665.9 900.4 L1668.9 900.5 L1671.9 900.7 L1674.9 900.8 L1677.9 901.0 L1680.9 901.1 L1683.9 901.2 L1686.9 901.4 L1689.9 901.5 L1692.9 901.6 L1695.9 901.8 L1698.9 901.9 L1701.9 902.0 L1704.9 902.2 L1707.8 902.3 L1710.8 902.4 L1713.8 902.6 L1716.8 902.7 L1719.8 902.8 L1722.8 903.0 L1725.8 903.1 L1728.8 903.2 L1731.8 903.4 L1734.8 903.5 L1737.8 903.6 L1740.8 903.7 L1743.8 903.9 L1746.8 904.0 L1749.8 904.1 L1752.8 904.2 L1755.8 904.4 L1758.8 904.5 L1761.8 904.6 L1764.8 904.7 L1767.8 904.8 L1770.8 905.0 L1773.8 905.1 L1776.8 905.2 L1779.7 905.3 L1782.7 905.4 L1785.7 905.5 L1788.7 905.7 L1791.7 905.8 L1794.7 905.9 L1797.7 906.0 L1800.7 906.1 L1803.7 906.2 L1806.7 906.3 L1809.7 906.4 L1812.6 906.6 L1815.6 906.7 L1818.6 906.8 L1821.6 906.9 L1824.6 907.0 L1825.0 907.0"/>
<path transform="translate(-1.05 0)" d="M486.5 353.0 L488.4 355.4 L490.2 357.7 L492.0 360.1 L493.8 362.5 L495.6 364.9 L497.4 367.3 L499.2 369.7 L500.9 372.2 L502.7 374.6 L504.4 377.0 L506.1 379.5 L507.9 381.9 L509.6 384.4 L511.2 386.9 L512.9 389.4 L514.6 391.9 L516.2 394.4 L517.9 396.9 L519.5 399.4 L521.1 401.9 L522.7 404.4 L524.3 407.0 L525.9 409.5 L527.5 412.0 L529.1 414.6 L530.6 417.2 L532.2 419.7 L533.7 422.3 L535.3 424.9 L536.8 427.5 L538.3 430.0 L539.8 432.6 L541.3 435.2 L542.8 437.8 L544.3 440.4 L545.8 443.1 L547.3 445.7 L548.7 448.3 L550.2 450.9 L551.6 453.6 L553.1 456.2 L554.5 458.8 L555.9 461.5 L557.4 464.1 L558.8 466.8 L560.2 469.4 L561.6 472.1 L563.0 474.7 L564.4 477.4 L565.8 480.0 L567.2 482.7 L568.6 485.4 L569.9 488.0 L571.3 490.7 L572.7 493.4 L574.0 496.1 L575.4 498.7 L576.8 501.4 L578.1 504.1 L579.5 506.8 L580.8 509.4 L582.2 512.1 L583.5 514.8 L584.9 517.5 L586.2 520.2 L587.6 522.9 L588.9 525.5 L590.3 528.2 L591.6 530.9 L592.9 533.6 L594.3 536.3 L595.6 538.9 L597.0 541.6 L598.3 544.3 L599.7 547.0 L601.0 549.6 L602.4 552.3 L603.7 555.0 L605.1 557.7 L606.5 560.3 L607.8 563.0 L609.2 565.7 L610.6 568.3 L612.0 571.0 L613.3 573.6 L614.7 576.3 L616.1 578.9 L617.5 581.6 L618.9 584.2 L620.3 586.9 L621.7 589.5 L623.2 592.1 L624.6 594.8 L626.0 597.4 L627.5 600.0 L628.9 602.6 L630.4 605.2 L631.9 607.8 L633.4 610.4 L634.9 613.0 L636.4 615.6 L637.9 618.2 L639.4 620.8 L640.9 623.4 L642.5 625.9 L644.0 628.5 L645.6 631.1 L647.2 633.6 L648.8 636.1 L650.4 638.7 L652.0 641.2 L653.6 643.7 L655.3 646.2 L656.9 648.7 L658.6 651.2 L660.3 653.7 L662.0 656.2 L663.7 658.6 L665.4 661.1 L667.1 663.5 L668.9 666.0 L670.7 668.4 L672.5 670.8 L674.3 673.2 L676.1 675.6 L677.9 678.0 L679.8 680.3 L681.6 682.7 L683.5 685.0 L685.4 687.3 L687.3 689.6 L689.2 691.9 L691.2 694.2 L693.2 696.5 L695.1 698.8 L697.1 701.0 L699.1 703.2 L701.2 705.4 L703.2 707.6 L705.3 709.8 L707.3 712.0 L709.4 714.1 L711.5 716.3 L713.7 718.4 L715.8 720.5 L718.0 722.5 L720.1 724.6 L722.3 726.6 L724.5 728.7 L726.8 730.7 L729.0 732.7 L731.2 734.6 L733.5 736.6 L735.8 738.5 L738.1 740.4 L740.4 742.3 L742.8 744.2 L745.1 746.0 L747.5 747.9 L749.8 749.7 L752.2 751.5 L754.7 753.2 L757.1 755.0 L759.5 756.7 L762.0 758.4 L764.4 760.1 L766.9 761.8 L769.4 763.4 L771.9 765.1 L774.4 766.7 L776.9 768.3 L779.5 769.9 L782.0 771.4 L784.6 773.0 L787.2 774.5 L789.8 776.0 L792.4 777.5 L795.0 778.9 L797.6 780.4 L800.2 781.8 L802.9 783.2 L805.5 784.6 L808.2 786.0 L810.9 787.4 L813.5 788.7 L816.2 790.0 L818.9 791.3 L821.6 792.6 L824.3 793.9 L827.1 795.1 L829.8 796.4 L832.5 797.6 L835.3 798.8 L838.0 800.0 L840.8 801.1 L843.5 802.3 L846.3 803.4 L849.1 804.5 L851.9 805.6 L854.7 806.7 L857.5 807.8 L860.2 808.8 L863.1 809.8 L865.9 810.9 L868.7 811.9 L871.5 812.8 L874.3 813.8 L877.1 814.8 L880.0 815.7 L882.8 816.6 L885.6 817.5 L888.5 818.4 L891.3 819.3 L894.2 820.2 L897.0 821.0 L899.9 821.9 L902.8 822.7 L905.6 823.5 L908.5 824.3 L911.4 825.1 L914.3 825.9 L917.2 826.6 L920.0 827.4 L922.9 828.1 L925.8 828.9 L928.7 829.6 L931.6 830.3 L934.5 831.0 L937.4 831.7 L940.4 832.4 L943.3 833.1 L946.2 833.8 L949.1 834.4 L952.0 835.1 L955.0 835.7 L957.9 836.4 L960.8 837.0 L963.8 837.6 L966.7 838.2 L969.6 838.8 L972.6 839.4 L975.5 840.0 L978.5 840.6 L981.4 841.2 L984.4 841.8 L987.3 842.4 L990.3 842.9 L993.2 843.5 L996.2 844.1 L999.2 844.6 L1002.1 845.2 L1005.1 845.7 L1008.1 846.3 L1011.0 846.8 L1014.0 847.3 L1017.0 847.9 L1020.0 848.4 L1022.9 848.9 L1025.9 849.4 L1028.9 849.9 L1031.9 850.4 L1034.8 850.9 L1037.8 851.4 L1040.8 851.9 L1043.8 852.4 L1046.8 852.9 L1049.8 853.3 L1052.8 853.8 L1055.7 854.3 L1058.7 854.7 L1061.7 855.2 L1064.7 855.6 L1067.7 856.1 L1070.7 856.5 L1073.7 857.0 L1076.7 857.4 L1079.7 857.8 L1082.7 858.3 L1085.6 858.7 L1088.6 859.1 L1091.6 859.5 L1094.6 859.9 L1097.6 860.3 L1100.6 860.7 L1103.6 861.1 L1106.6 861.5 L1109.6 861.9 L1112.6 862.3 L1115.6 862.6 L1118.5 863.0 L1121.5 863.4 L1124.5 863.7 L1127.5 864.1 L1130.5 864.5 L1133.5 864.8 L1136.5 865.2 L1139.5 865.5 L1142.4 865.8 L1145.4 866.2 L1148.4 866.5 L1151.4 866.8 L1154.4 867.2 L1157.4 867.5 L1160.3 867.8 L1163.3 868.1 L1166.3 868.4 L1169.3 868.7 L1172.3 869.0 L1175.3 869.3 L1178.2 869.6 L1181.2 869.9 L1184.2 870.2 L1187.2 870.5 L1190.2 870.8 L1193.2 871.1 L1196.1 871.3 L1199.1 871.6 L1202.1 871.9 L1205.1 872.2 L1208.1 872.4 L1211.0 872.7 L1214.0 873.0 L1217.0 873.2 L1220.0 873.5 L1223.0 873.7 L1225.9 874.0 L1228.9 874.2 L1231.9 874.5 L1234.9 874.7 L1237.9 874.9 L1240.8 875.2 L1243.8 875.4 L1246.8 875.7 L1249.8 875.9 L1252.8 876.1 L1255.7 876.3 L1258.7 876.6 L1261.7 876.8 L1264.7 877.0 L1267.7 877.2 L1270.6 877.5 L1273.6 877.7 L1276.6 877.9 L1279.6 878.1 L1282.6 878.3 L1285.5 878.5 L1288.5 878.7 L1291.5 878.9 L1294.5 879.2 L1297.5 879.4 L1300.4 879.6 L1303.4 879.8 L1306.4 880.0 L1309.4 880.2 L1312.4 880.4 L1315.4 880.6 L1318.3 880.8 L1321.3 881.0 L1324.3 881.1 L1327.3 881.3 L1330.3 881.5 L1333.3 881.7 L1336.2 881.9 L1339.2 882.1 L1342.2 882.3 L1345.2 882.5 L1348.2 882.7 L1351.2 882.9 L1354.1 883.0 L1357.1 883.2 L1360.1 883.4 L1363.1 883.6 L1366.1 883.8 L1369.1 884.0 L1372.1 884.2 L1375.1 884.4 L1378.0 884.5 L1381.0 884.7 L1384.0 884.9 L1387.0 885.1 L1390.0 885.3 L1393.0 885.5 L1396.0 885.6 L1399.0 885.8 L1402.0 886.0 L1405.0 886.2 L1408.0 886.4 L1410.9 886.6 L1413.9 886.7 L1416.9 886.9 L1419.9 887.1 L1422.9 887.3 L1425.9 887.5 L1428.9 887.6 L1431.9 887.8 L1434.9 888.0 L1437.9 888.2 L1440.9 888.3 L1443.9 888.5 L1446.9 888.7 L1449.9 888.9 L1452.9 889.1 L1455.9 889.2 L1458.9 889.4 L1461.8 889.6 L1464.8 889.8 L1467.8 889.9 L1470.8 890.1 L1473.8 890.3 L1476.8 890.5 L1479.8 890.6 L1482.8 890.8 L1485.8 891.0 L1488.8 891.1 L1491.8 891.3 L1494.8 891.5 L1497.8 891.7 L1500.8 891.8 L1503.8 892.0 L1506.8 892.2 L1509.8 892.3 L1512.8 892.5 L1515.8 892.7 L1518.8 892.8 L1521.8 893.0 L1524.8 893.2 L1527.8 893.3 L1530.8 893.5 L1533.8 893.7 L1536.8 893.8 L1539.8 894.0 L1542.8 894.1 L1545.8 894.3 L1548.8 894.5 L1551.8 894.6 L1554.8 894.8 L1557.8 895.0 L1560.8 895.1 L1563.8 895.3 L1566.8 895.4 L1569.8 895.6 L1572.8 895.8 L1575.8 895.9 L1578.8 896.1 L1581.8 896.2 L1584.8 896.4 L1587.8 896.5 L1590.8 896.7 L1593.8 896.8 L1596.8 897.0 L1599.8 897.2 L1602.8 897.3 L1605.8 897.5 L1608.8 897.6 L1611.8 897.8 L1614.8 897.9 L1617.8 898.1 L1620.8 898.2 L1623.9 898.4 L1626.9 898.5 L1629.9 898.7 L1632.9 898.8 L1635.9 899.0 L1638.9 899.1 L1641.9 899.2 L1644.9 899.4 L1647.9 899.5 L1650.9 899.7 L1653.9 899.8 L1656.9 900.0 L1659.9 900.1 L1662.9 900.3 L1665.9 900.4 L1668.9 900.5 L1671.9 900.7 L1674.9 900.8 L1677.9 901.0 L1680.9 901.1 L1683.9 901.2 L1686.9 901.4 L1689.9 901.5 L1692.9 901.6 L1695.9 901.8 L1698.9 901.9 L1701.9 902.0 L1704.9 902.2 L1707.8 902.3 L1710.8 902.4 L1713.8 902.6 L1716.8 902.7 L1719.8 902.8 L1722.8 903.0 L1725.8 903.1 L1728.8 903.2 L1731.8 903.4 L1734.8 903.5 L1737.8 903.6 L1740.8 903.7 L1743.8 903.9 L1746.8 904.0 L1749.8 904.1 L1752.8 904.2 L1755.8 904.4 L1758.8 904.5 L1761.8 904.6 L1764.8 904.7 L1767.8 904.8 L1770.8 905.0 L1773.8 905.1 L1776.8 905.2 L1779.7 905.3 L1782.7 905.4 L1785.7 905.5 L1788.7 905.7 L1791.7 905.8 L1794.7 905.9 L1797.7 906.0 L1800.7 906.1 L1803.7 906.2 L1806.7 906.3 L1809.7 906.4 L1812.6 906.6 L1815.6 906.7 L1818.6 906.8 L1821.6 906.9 L1824.6 907.0 L1825.0 907.0"/>
<path transform="translate(1.05 0)" d="M486.5 353.0 L488.4 355.4 L490.2 357.7 L492.0 360.1 L493.8 362.5 L495.6 364.9 L497.4 367.3 L499.2 369.7 L500.9 372.2 L502.7 374.6 L504.4 377.0 L506.1 379.5 L507.9 381.9 L509.6 384.4 L511.2 386.9 L512.9 389.4 L514.6 391.9 L516.2 394.4 L517.9 396.9 L519.5 399.4 L521.1 401.9 L522.7 404.4 L524.3 407.0 L525.9 409.5 L527.5 412.0 L529.1 414.6 L530.6 417.2 L532.2 419.7 L533.7 422.3 L535.3 424.9 L536.8 427.5 L538.3 430.0 L539.8 432.6 L541.3 435.2 L542.8 437.8 L544.3 440.4 L545.8 443.1 L547.3 445.7 L548.7 448.3 L550.2 450.9 L551.6 453.6 L553.1 456.2 L554.5 458.8 L555.9 461.5 L557.4 464.1 L558.8 466.8 L560.2 469.4 L561.6 472.1 L563.0 474.7 L564.4 477.4 L565.8 480.0 L567.2 482.7 L568.6 485.4 L569.9 488.0 L571.3 490.7 L572.7 493.4 L574.0 496.1 L575.4 498.7 L576.8 501.4 L578.1 504.1 L579.5 506.8 L580.8 509.4 L582.2 512.1 L583.5 514.8 L584.9 517.5 L586.2 520.2 L587.6 522.9 L588.9 525.5 L590.3 528.2 L591.6 530.9 L592.9 533.6 L594.3 536.3 L595.6 538.9 L597.0 541.6 L598.3 544.3 L599.7 547.0 L601.0 549.6 L602.4 552.3 L603.7 555.0 L605.1 557.7 L606.5 560.3 L607.8 563.0 L609.2 565.7 L610.6 568.3 L612.0 571.0 L613.3 573.6 L614.7 576.3 L616.1 578.9 L617.5 581.6 L618.9 584.2 L620.3 586.9 L621.7 589.5 L623.2 592.1 L624.6 594.8 L626.0 597.4 L627.5 600.0 L628.9 602.6 L630.4 605.2 L631.9 607.8 L633.4 610.4 L634.9 613.0 L636.4 615.6 L637.9 618.2 L639.4 620.8 L640.9 623.4 L642.5 625.9 L644.0 628.5 L645.6 631.1 L647.2 633.6 L648.8 636.1 L650.4 638.7 L652.0 641.2 L653.6 643.7 L655.3 646.2 L656.9 648.7 L658.6 651.2 L660.3 653.7 L662.0 656.2 L663.7 658.6 L665.4 661.1 L667.1 663.5 L668.9 666.0 L670.7 668.4 L672.5 670.8 L674.3 673.2 L676.1 675.6 L677.9 678.0 L679.8 680.3 L681.6 682.7 L683.5 685.0 L685.4 687.3 L687.3 689.6 L689.2 691.9 L691.2 694.2 L693.2 696.5 L695.1 698.8 L697.1 701.0 L699.1 703.2 L701.2 705.4 L703.2 707.6 L705.3 709.8 L707.3 712.0 L709.4 714.1 L711.5 716.3 L713.7 718.4 L715.8 720.5 L718.0 722.5 L720.1 724.6 L722.3 726.6 L724.5 728.7 L726.8 730.7 L729.0 732.7 L731.2 734.6 L733.5 736.6 L735.8 738.5 L738.1 740.4 L740.4 742.3 L742.8 744.2 L745.1 746.0 L747.5 747.9 L749.8 749.7 L752.2 751.5 L754.7 753.2 L757.1 755.0 L759.5 756.7 L762.0 758.4 L764.4 760.1 L766.9 761.8 L769.4 763.4 L771.9 765.1 L774.4 766.7 L776.9 768.3 L779.5 769.9 L782.0 771.4 L784.6 773.0 L787.2 774.5 L789.8 776.0 L792.4 777.5 L795.0 778.9 L797.6 780.4 L800.2 781.8 L802.9 783.2 L805.5 784.6 L808.2 786.0 L810.9 787.4 L813.5 788.7 L816.2 790.0 L818.9 791.3 L821.6 792.6 L824.3 793.9 L827.1 795.1 L829.8 796.4 L832.5 797.6 L835.3 798.8 L838.0 800.0 L840.8 801.1 L843.5 802.3 L846.3 803.4 L849.1 804.5 L851.9 805.6 L854.7 806.7 L857.5 807.8 L860.2 808.8 L863.1 809.8 L865.9 810.9 L868.7 811.9 L871.5 812.8 L874.3 813.8 L877.1 814.8 L880.0 815.7 L882.8 816.6 L885.6 817.5 L888.5 818.4 L891.3 819.3 L894.2 820.2 L897.0 821.0 L899.9 821.9 L902.8 822.7 L905.6 823.5 L908.5 824.3 L911.4 825.1 L914.3 825.9 L917.2 826.6 L920.0 827.4 L922.9 828.1 L925.8 828.9 L928.7 829.6 L931.6 830.3 L934.5 831.0 L937.4 831.7 L940.4 832.4 L943.3 833.1 L946.2 833.8 L949.1 834.4 L952.0 835.1 L955.0 835.7 L957.9 836.4 L960.8 837.0 L963.8 837.6 L966.7 838.2 L969.6 838.8 L972.6 839.4 L975.5 840.0 L978.5 840.6 L981.4 841.2 L984.4 841.8 L987.3 842.4 L990.3 842.9 L993.2 843.5 L996.2 844.1 L999.2 844.6 L1002.1 845.2 L1005.1 845.7 L1008.1 846.3 L1011.0 846.8 L1014.0 847.3 L1017.0 847.9 L1020.0 848.4 L1022.9 848.9 L1025.9 849.4 L1028.9 849.9 L1031.9 850.4 L1034.8 850.9 L1037.8 851.4 L1040.8 851.9 L1043.8 852.4 L1046.8 852.9 L1049.8 853.3 L1052.8 853.8 L1055.7 854.3 L1058.7 854.7 L1061.7 855.2 L1064.7 855.6 L1067.7 856.1 L1070.7 856.5 L1073.7 857.0 L1076.7 857.4 L1079.7 857.8 L1082.7 858.3 L1085.6 858.7 L1088.6 859.1 L1091.6 859.5 L1094.6 859.9 L1097.6 860.3 L1100.6 860.7 L1103.6 861.1 L1106.6 861.5 L1109.6 861.9 L1112.6 862.3 L1115.6 862.6 L1118.5 863.0 L1121.5 863.4 L1124.5 863.7 L1127.5 864.1 L1130.5 864.5 L1133.5 864.8 L1136.5 865.2 L1139.5 865.5 L1142.4 865.8 L1145.4 866.2 L1148.4 866.5 L1151.4 866.8 L1154.4 867.2 L1157.4 867.5 L1160.3 867.8 L1163.3 868.1 L1166.3 868.4 L1169.3 868.7 L1172.3 869.0 L1175.3 869.3 L1178.2 869.6 L1181.2 869.9 L1184.2 870.2 L1187.2 870.5 L1190.2 870.8 L1193.2 871.1 L1196.1 871.3 L1199.1 871.6 L1202.1 871.9 L1205.1 872.2 L1208.1 872.4 L1211.0 872.7 L1214.0 873.0 L1217.0 873.2 L1220.0 873.5 L1223.0 873.7 L1225.9 874.0 L1228.9 874.2 L1231.9 874.5 L1234.9 874.7 L1237.9 874.9 L1240.8 875.2 L1243.8 875.4 L1246.8 875.7 L1249.8 875.9 L1252.8 876.1 L1255.7 876.3 L1258.7 876.6 L1261.7 876.8 L1264.7 877.0 L1267.7 877.2 L1270.6 877.5 L1273.6 877.7 L1276.6 877.9 L1279.6 878.1 L1282.6 878.3 L1285.5 878.5 L1288.5 878.7 L1291.5 878.9 L1294.5 879.2 L1297.5 879.4 L1300.4 879.6 L1303.4 879.8 L1306.4 880.0 L1309.4 880.2 L1312.4 880.4 L1315.4 880.6 L1318.3 880.8 L1321.3 881.0 L1324.3 881.1 L1327.3 881.3 L1330.3 881.5 L1333.3 881.7 L1336.2 881.9 L1339.2 882.1 L1342.2 882.3 L1345.2 882.5 L1348.2 882.7 L1351.2 882.9 L1354.1 883.0 L1357.1 883.2 L1360.1 883.4 L1363.1 883.6 L1366.1 883.8 L1369.1 884.0 L1372.1 884.2 L1375.1 884.4 L1378.0 884.5 L1381.0 884.7 L1384.0 884.9 L1387.0 885.1 L1390.0 885.3 L1393.0 885.5 L1396.0 885.6 L1399.0 885.8 L1402.0 886.0 L1405.0 886.2 L1408.0 886.4 L1410.9 886.6 L1413.9 886.7 L1416.9 886.9 L1419.9 887.1 L1422.9 887.3 L1425.9 887.5 L1428.9 887.6 L1431.9 887.8 L1434.9 888.0 L1437.9 888.2 L1440.9 888.3 L1443.9 888.5 L1446.9 888.7 L1449.9 888.9 L1452.9 889.1 L1455.9 889.2 L1458.9 889.4 L1461.8 889.6 L1464.8 889.8 L1467.8 889.9 L1470.8 890.1 L1473.8 890.3 L1476.8 890.5 L1479.8 890.6 L1482.8 890.8 L1485.8 891.0 L1488.8 891.1 L1491.8 891.3 L1494.8 891.5 L1497.8 891.7 L1500.8 891.8 L1503.8 892.0 L1506.8 892.2 L1509.8 892.3 L1512.8 892.5 L1515.8 892.7 L1518.8 892.8 L1521.8 893.0 L1524.8 893.2 L1527.8 893.3 L1530.8 893.5 L1533.8 893.7 L1536.8 893.8 L1539.8 894.0 L1542.8 894.1 L1545.8 894.3 L1548.8 894.5 L1551.8 894.6 L1554.8 894.8 L1557.8 895.0 L1560.8 895.1 L1563.8 895.3 L1566.8 895.4 L1569.8 895.6 L1572.8 895.8 L1575.8 895.9 L1578.8 896.1 L1581.8 896.2 L1584.8 896.4 L1587.8 896.5 L1590.8 896.7 L1593.8 896.8 L1596.8 897.0 L1599.8 897.2 L1602.8 897.3 L1605.8 897.5 L1608.8 897.6 L1611.8 897.8 L1614.8 897.9 L1617.8 898.1 L1620.8 898.2 L1623.9 898.4 L1626.9 898.5 L1629.9 898.7 L1632.9 898.8 L1635.9 899.0 L1638.9 899.1 L1641.9 899.2 L1644.9 899.4 L1647.9 899.5 L1650.9 899.7 L1653.9 899.8 L1656.9 900.0 L1659.9 900.1 L1662.9 900.3 L1665.9 900.4 L1668.9 900.5 L1671.9 900.7 L1674.9 900.8 L1677.9 901.0 L1680.9 901.1 L1683.9 901.2 L1686.9 901.4 L1689.9 901.5 L1692.9 901.6 L1695.9 901.8 L1698.9 901.9 L1701.9 902.0 L1704.9 902.2 L1707.8 902.3 L1710.8 902.4 L1713.8 902.6 L1716.8 902.7 L1719.8 902.8 L1722.8 903.0 L1725.8 903.1 L1728.8 903.2 L1731.8 903.4 L1734.8 903.5 L1737.8 903.6 L1740.8 903.7 L1743.8 903.9 L1746.8 904.0 L1749.8 904.1 L1752.8 904.2 L1755.8 904.4 L1758.8 904.5 L1761.8 904.6 L1764.8 904.7 L1767.8 904.8 L1770.8 905.0 L1773.8 905.1 L1776.8 905.2 L1779.7 905.3 L1782.7 905.4 L1785.7 905.5 L1788.7 905.7 L1791.7 905.8 L1794.7 905.9 L1797.7 906.0 L1800.7 906.1 L1803.7 906.2 L1806.7 906.3 L1809.7 906.4 L1812.6 906.6 L1815.6 906.7 L1818.6 906.8 L1821.6 906.9 L1824.6 907.0 L1825.0 907.0"/>
</g>
<circle cx="1825.0" cy="907.0" r="3.1" fill="#F14040"/>
<path d="M490 313 L490 343" fill="none" stroke="#1A6FDF" stroke-width="5.8" stroke-linecap="butt"/>
<g fill="none" stroke="#1A6FDF" stroke-width="6.2" stroke-linejoin="round" stroke-linecap="butt">
<path d="M490.3 344.0 L492.0 348.0 L494.0 350.2 L496.0 352.5 L497.9 354.7 L499.9 357.0 L501.8 359.3 L503.7 361.6 L505.5 363.9 L507.4 366.2 L509.2 368.6 L511.1 370.9 L512.9 373.3 L514.6 375.7 L516.4 378.1 L518.1 380.5 L519.9 383.0 L521.6 385.4 L523.3 387.9 L525.0 390.4 L526.7 392.8 L528.3 395.3 L530.0 397.8 L531.6 400.3 L533.2 402.9 L534.8 405.4 L536.4 407.9 L538.0 410.5 L539.6 413.0 L541.2 415.6 L542.7 418.2 L544.3 420.7 L545.8 423.3 L547.3 425.9 L548.9 428.5 L550.4 431.1 L551.9 433.7 L553.4 436.3 L554.9 438.9 L556.4 441.5 L557.9 444.1 L559.3 446.7 L560.8 449.4 L562.3 452.0 L563.8 454.6 L565.2 457.2 L566.7 459.8 L568.1 462.4 L569.6 465.1 L571.1 467.7 L572.5 470.3 L574.0 472.9 L575.4 475.5 L576.9 478.1 L578.4 480.7 L579.8 483.3 L581.3 485.9 L582.8 488.5 L584.2 491.1 L585.7 493.7 L587.2 496.3 L588.7 498.9 L590.2 501.4 L591.7 504.0 L593.2 506.6 L594.7 509.1 L596.3 511.7 L597.8 514.2 L599.4 516.8 L600.9 519.3 L602.5 521.8 L604.1 524.4 L605.7 526.9 L607.3 529.4 L608.9 531.9 L610.5 534.4 L612.2 536.8 L613.8 539.3 L615.5 541.8 L617.2 544.2 L618.9 546.7 L620.6 549.1 L622.4 551.5 L624.1 553.9 L625.9 556.3 L627.7 558.7 L629.5 561.1 L631.4 563.4 L633.2 565.8 L635.1 568.1 L637.0 570.5 L638.9 572.8 L640.9 575.1 L642.8 577.4 L644.8 579.6 L646.9 581.9 L648.9 584.1 L650.9 586.3 L653.0 588.6 L655.1 590.7 L657.3 592.9 L659.4 595.1 L661.6 597.2 L663.7 599.3 L665.9 601.4 L668.2 603.5 L670.4 605.6 L672.7 607.6 L674.9 609.7 L677.2 611.7 L679.5 613.6 L681.9 615.6 L684.2 617.5 L686.6 619.4 L689.0 621.3 L691.4 623.2 L693.8 625.0 L696.2 626.9 L698.7 628.7 L701.1 630.4 L703.6 632.2 L706.1 633.9 L708.6 635.6 L711.1 637.2 L713.6 638.9 L716.2 640.5 L718.7 642.0 L721.3 643.6 L723.9 645.1 L726.5 646.6 L729.1 648.1 L731.7 649.5 L734.3 650.9 L737.0 652.3 L739.6 653.7 L742.3 655.0 L744.9 656.3 L747.6 657.6 L750.3 658.9 L753.0 660.2 L755.7 661.4 L758.4 662.6 L761.2 663.8 L763.9 665.0 L766.6 666.1 L769.4 667.2 L772.1 668.3 L774.9 669.4 L777.7 670.5 L780.4 671.5 L783.2 672.6 L786.0 673.6 L788.8 674.6 L791.6 675.6 L794.4 676.5 L797.2 677.5 L800.0 678.4 L802.8 679.3 L805.6 680.2 L808.5 681.1 L811.3 682.0 L814.1 682.9 L817.0 683.7 L819.8 684.5 L822.7 685.3 L825.5 686.2 L828.4 686.9 L831.2 687.7 L834.1 688.5 L837.0 689.2 L839.8 690.0 L842.7 690.7 L845.6 691.4 L848.5 692.1 L851.4 692.8 L854.3 693.5 L857.2 694.2 L860.1 694.9 L863.0 695.5 L865.9 696.2 L868.8 696.8 L871.7 697.4 L874.6 698.1 L877.5 698.7 L880.4 699.3 L883.4 699.9 L886.3 700.5 L889.2 701.0 L892.1 701.6 L895.1 702.2 L898.0 702.8 L901.0 703.3 L903.9 703.9 L906.8 704.4 L909.8 704.9 L912.7 705.5 L915.7 706.0 L918.6 706.5 L921.6 707.0 L924.5 707.6 L927.5 708.1 L930.5 708.6 L933.4 709.1 L936.4 709.6 L939.3 710.1 L942.3 710.6 L945.3 711.1 L948.2 711.6 L951.2 712.1 L954.2 712.6 L957.1 713.1 L960.1 713.6 L963.1 714.0 L966.1 714.5 L969.0 715.0 L972.0 715.5 L975.0 716.0 L977.9 716.5 L980.9 717.0 L983.9 717.5 L986.9 718.0 L989.8 718.5 L992.8 719.0 L995.8 719.5 L998.8 720.0 L1001.7 720.5 L1004.7 721.0 L1007.7 721.5 L1010.7 722.0 L1013.6 722.5 L1016.6 723.0 L1019.6 723.5 L1022.6 724.0 L1025.5 724.5 L1028.5 725.1 L1031.5 725.6 L1034.5 726.1 L1037.4 726.6 L1040.4 727.1 L1043.4 727.6 L1046.4 728.1 L1049.3 728.6 L1052.3 729.2 L1055.3 729.7 L1058.3 730.2 L1061.2 730.7 L1064.2 731.2 L1067.2 731.7 L1070.2 732.2 L1073.2 732.7 L1076.1 733.2 L1079.1 733.7 L1082.1 734.2 L1085.1 734.7 L1088.0 735.2 L1091.0 735.7 L1094.0 736.2 L1097.0 736.7 L1100.0 737.2 L1102.9 737.7 L1105.9 738.2 L1108.9 738.7 L1111.9 739.2 L1114.8 739.7 L1117.8 740.1 L1120.8 740.6 L1123.8 741.1 L1126.8 741.5 L1129.7 742.0 L1132.7 742.5 L1135.7 742.9 L1138.7 743.3 L1141.7 743.8 L1144.6 744.2 L1147.6 744.6 L1150.6 745.0 L1153.6 745.4 L1156.6 745.8 L1159.5 746.2 L1162.5 746.5 L1165.5 746.9 L1168.5 747.2 L1171.5 747.5 L1174.4 747.8 L1177.4 748.1 L1180.4 748.4 L1183.4 748.7 L1186.4 749.0 L1189.3 749.2 L1192.3 749.5 L1195.3 749.7 L1198.3 750.0 L1201.3 750.2 L1204.3 750.4 L1207.2 750.7 L1210.2 750.9 L1213.2 751.1 L1216.2 751.3 L1219.2 751.5 L1222.1 751.7 L1225.1 752.0 L1228.1 752.2 L1231.1 752.3 L1234.1 752.5 L1237.1 752.7 L1240.0 752.9 L1243.0 753.1 L1246.0 753.3 L1249.0 753.5 L1252.0 753.7 L1255.0 753.8 L1257.9 754.0 L1260.9 754.2 L1263.9 754.4 L1266.9 754.5 L1269.9 754.7 L1272.9 754.9 L1275.8 755.1 L1278.8 755.2 L1281.8 755.4 L1284.8 755.6 L1287.8 755.7 L1290.8 755.9 L1293.8 756.1 L1296.7 756.3 L1299.7 756.4 L1302.7 756.6 L1305.7 756.8 L1308.7 757.0 L1311.7 757.1 L1314.6 757.3 L1317.6 757.5 L1320.6 757.7 L1323.6 757.9 L1326.6 758.0 L1329.6 758.2 L1332.6 758.4 L1335.5 758.6 L1338.5 758.8 L1341.5 759.0 L1344.5 759.1 L1347.5 759.3 L1350.5 759.5 L1353.5 759.7 L1356.5 759.9 L1359.4 760.0 L1362.4 760.2 L1365.4 760.4 L1368.4 760.5 L1371.4 760.7 L1374.4 760.9 L1377.4 761.0 L1380.3 761.2 L1383.3 761.4 L1386.3 761.5 L1389.3 761.7 L1392.3 761.9 L1395.3 762.0 L1398.3 762.2 L1401.3 762.3 L1404.3 762.5 L1407.2 762.7 L1410.2 762.8 L1413.2 763.0 L1416.2 763.2 L1419.2 763.3 L1422.2 763.5 L1425.2 763.7 L1428.2 763.8 L1431.1 764.0 L1434.1 764.2 L1437.1 764.3 L1440.1 764.5 L1443.1 764.7 L1446.1 764.9 L1449.1 765.0 L1452.1 765.2 L1455.1 765.4 L1458.1 765.6 L1461.0 765.8 L1464.0 765.9 L1467.0 766.1 L1470.0 766.3 L1473.0 766.5 L1476.0 766.6 L1479.0 766.8 L1482.0 767.0 L1485.0 767.2 L1488.0 767.4 L1490.9 767.5 L1493.9 767.7 L1496.9 767.9 L1499.9 768.1 L1502.9 768.3 L1505.9 768.5 L1508.9 768.6 L1511.9 768.8 L1514.9 769.0 L1517.9 769.2 L1520.9 769.4 L1523.8 769.5 L1526.8 769.7 L1529.8 769.9 L1532.8 770.1 L1535.8 770.3 L1538.8 770.4 L1541.8 770.6 L1544.8 770.8 L1547.8 771.0 L1550.8 771.2 L1553.8 771.3 L1556.8 771.5 L1559.8 771.7 L1562.7 771.9 L1565.7 772.0 L1568.7 772.2 L1571.7 772.4 L1574.7 772.6 L1577.7 772.7 L1580.7 772.9 L1583.7 773.1 L1586.7 773.2 L1589.7 773.4 L1592.7 773.6 L1595.7 773.7 L1598.7 773.9 L1601.7 774.1 L1604.6 774.2 L1607.6 774.4 L1610.6 774.5 L1613.6 774.7 L1616.6 774.9 L1619.6 775.0 L1622.6 775.2 L1625.6 775.3 L1628.6 775.5 L1631.6 775.6 L1634.6 775.8 L1637.6 775.9 L1640.6 776.1 L1643.6 776.2 L1646.6 776.4 L1649.6 776.5 L1652.6 776.7 L1655.6 776.8 L1658.5 776.9 L1661.5 777.1 L1664.5 777.2 L1667.5 777.4 L1670.5 777.5 L1673.5 777.7 L1676.5 777.8 L1679.5 777.9 L1682.5 778.1 L1685.5 778.2 L1688.5 778.4 L1691.5 778.5 L1694.5 778.6 L1697.5 778.8 L1700.5 778.9 L1703.5 779.1 L1706.5 779.2 L1709.5 779.4 L1712.5 779.5 L1715.5 779.7 L1718.5 779.8 L1721.5 780.0 L1724.5 780.1 L1727.4 780.3 L1730.4 780.5 L1733.4 780.6 L1736.4 780.8 L1739.4 781.0 L1742.4 781.1 L1745.4 781.3 L1748.4 781.5 L1751.4 781.7 L1754.4 781.9 L1757.4 782.0 L1760.4 782.2 L1763.4 782.4 L1766.4 782.6 L1769.4 782.8 L1772.4 783.0 L1775.4 783.2 L1778.4 783.5 L1781.4 783.7 L1784.4 783.9 L1787.4 784.1 L1790.4 784.4 L1793.4 784.6 L1796.4 784.8 L1799.4 785.1 L1802.4 785.3 L1805.4 785.6 L1808.4 785.8 L1811.4 786.1 L1814.4 786.4 L1817.4 786.7 L1820.4 786.9 L1821.0 787.0"/>
<path transform="translate(-1.05 0)" d="M490.3 344.0 L492.0 348.0 L494.0 350.2 L496.0 352.5 L497.9 354.7 L499.9 357.0 L501.8 359.3 L503.7 361.6 L505.5 363.9 L507.4 366.2 L509.2 368.6 L511.1 370.9 L512.9 373.3 L514.6 375.7 L516.4 378.1 L518.1 380.5 L519.9 383.0 L521.6 385.4 L523.3 387.9 L525.0 390.4 L526.7 392.8 L528.3 395.3 L530.0 397.8 L531.6 400.3 L533.2 402.9 L534.8 405.4 L536.4 407.9 L538.0 410.5 L539.6 413.0 L541.2 415.6 L542.7 418.2 L544.3 420.7 L545.8 423.3 L547.3 425.9 L548.9 428.5 L550.4 431.1 L551.9 433.7 L553.4 436.3 L554.9 438.9 L556.4 441.5 L557.9 444.1 L559.3 446.7 L560.8 449.4 L562.3 452.0 L563.8 454.6 L565.2 457.2 L566.7 459.8 L568.1 462.4 L569.6 465.1 L571.1 467.7 L572.5 470.3 L574.0 472.9 L575.4 475.5 L576.9 478.1 L578.4 480.7 L579.8 483.3 L581.3 485.9 L582.8 488.5 L584.2 491.1 L585.7 493.7 L587.2 496.3 L588.7 498.9 L590.2 501.4 L591.7 504.0 L593.2 506.6 L594.7 509.1 L596.3 511.7 L597.8 514.2 L599.4 516.8 L600.9 519.3 L602.5 521.8 L604.1 524.4 L605.7 526.9 L607.3 529.4 L608.9 531.9 L610.5 534.4 L612.2 536.8 L613.8 539.3 L615.5 541.8 L617.2 544.2 L618.9 546.7 L620.6 549.1 L622.4 551.5 L624.1 553.9 L625.9 556.3 L627.7 558.7 L629.5 561.1 L631.4 563.4 L633.2 565.8 L635.1 568.1 L637.0 570.5 L638.9 572.8 L640.9 575.1 L642.8 577.4 L644.8 579.6 L646.9 581.9 L648.9 584.1 L650.9 586.3 L653.0 588.6 L655.1 590.7 L657.3 592.9 L659.4 595.1 L661.6 597.2 L663.7 599.3 L665.9 601.4 L668.2 603.5 L670.4 605.6 L672.7 607.6 L674.9 609.7 L677.2 611.7 L679.5 613.6 L681.9 615.6 L684.2 617.5 L686.6 619.4 L689.0 621.3 L691.4 623.2 L693.8 625.0 L696.2 626.9 L698.7 628.7 L701.1 630.4 L703.6 632.2 L706.1 633.9 L708.6 635.6 L711.1 637.2 L713.6 638.9 L716.2 640.5 L718.7 642.0 L721.3 643.6 L723.9 645.1 L726.5 646.6 L729.1 648.1 L731.7 649.5 L734.3 650.9 L737.0 652.3 L739.6 653.7 L742.3 655.0 L744.9 656.3 L747.6 657.6 L750.3 658.9 L753.0 660.2 L755.7 661.4 L758.4 662.6 L761.2 663.8 L763.9 665.0 L766.6 666.1 L769.4 667.2 L772.1 668.3 L774.9 669.4 L777.7 670.5 L780.4 671.5 L783.2 672.6 L786.0 673.6 L788.8 674.6 L791.6 675.6 L794.4 676.5 L797.2 677.5 L800.0 678.4 L802.8 679.3 L805.6 680.2 L808.5 681.1 L811.3 682.0 L814.1 682.9 L817.0 683.7 L819.8 684.5 L822.7 685.3 L825.5 686.2 L828.4 686.9 L831.2 687.7 L834.1 688.5 L837.0 689.2 L839.8 690.0 L842.7 690.7 L845.6 691.4 L848.5 692.1 L851.4 692.8 L854.3 693.5 L857.2 694.2 L860.1 694.9 L863.0 695.5 L865.9 696.2 L868.8 696.8 L871.7 697.4 L874.6 698.1 L877.5 698.7 L880.4 699.3 L883.4 699.9 L886.3 700.5 L889.2 701.0 L892.1 701.6 L895.1 702.2 L898.0 702.8 L901.0 703.3 L903.9 703.9 L906.8 704.4 L909.8 704.9 L912.7 705.5 L915.7 706.0 L918.6 706.5 L921.6 707.0 L924.5 707.6 L927.5 708.1 L930.5 708.6 L933.4 709.1 L936.4 709.6 L939.3 710.1 L942.3 710.6 L945.3 711.1 L948.2 711.6 L951.2 712.1 L954.2 712.6 L957.1 713.1 L960.1 713.6 L963.1 714.0 L966.1 714.5 L969.0 715.0 L972.0 715.5 L975.0 716.0 L977.9 716.5 L980.9 717.0 L983.9 717.5 L986.9 718.0 L989.8 718.5 L992.8 719.0 L995.8 719.5 L998.8 720.0 L1001.7 720.5 L1004.7 721.0 L1007.7 721.5 L1010.7 722.0 L1013.6 722.5 L1016.6 723.0 L1019.6 723.5 L1022.6 724.0 L1025.5 724.5 L1028.5 725.1 L1031.5 725.6 L1034.5 726.1 L1037.4 726.6 L1040.4 727.1 L1043.4 727.6 L1046.4 728.1 L1049.3 728.6 L1052.3 729.2 L1055.3 729.7 L1058.3 730.2 L1061.2 730.7 L1064.2 731.2 L1067.2 731.7 L1070.2 732.2 L1073.2 732.7 L1076.1 733.2 L1079.1 733.7 L1082.1 734.2 L1085.1 734.7 L1088.0 735.2 L1091.0 735.7 L1094.0 736.2 L1097.0 736.7 L1100.0 737.2 L1102.9 737.7 L1105.9 738.2 L1108.9 738.7 L1111.9 739.2 L1114.8 739.7 L1117.8 740.1 L1120.8 740.6 L1123.8 741.1 L1126.8 741.5 L1129.7 742.0 L1132.7 742.5 L1135.7 742.9 L1138.7 743.3 L1141.7 743.8 L1144.6 744.2 L1147.6 744.6 L1150.6 745.0 L1153.6 745.4 L1156.6 745.8 L1159.5 746.2 L1162.5 746.5 L1165.5 746.9 L1168.5 747.2 L1171.5 747.5 L1174.4 747.8 L1177.4 748.1 L1180.4 748.4 L1183.4 748.7 L1186.4 749.0 L1189.3 749.2 L1192.3 749.5 L1195.3 749.7 L1198.3 750.0 L1201.3 750.2 L1204.3 750.4 L1207.2 750.7 L1210.2 750.9 L1213.2 751.1 L1216.2 751.3 L1219.2 751.5 L1222.1 751.7 L1225.1 752.0 L1228.1 752.2 L1231.1 752.3 L1234.1 752.5 L1237.1 752.7 L1240.0 752.9 L1243.0 753.1 L1246.0 753.3 L1249.0 753.5 L1252.0 753.7 L1255.0 753.8 L1257.9 754.0 L1260.9 754.2 L1263.9 754.4 L1266.9 754.5 L1269.9 754.7 L1272.9 754.9 L1275.8 755.1 L1278.8 755.2 L1281.8 755.4 L1284.8 755.6 L1287.8 755.7 L1290.8 755.9 L1293.8 756.1 L1296.7 756.3 L1299.7 756.4 L1302.7 756.6 L1305.7 756.8 L1308.7 757.0 L1311.7 757.1 L1314.6 757.3 L1317.6 757.5 L1320.6 757.7 L1323.6 757.9 L1326.6 758.0 L1329.6 758.2 L1332.6 758.4 L1335.5 758.6 L1338.5 758.8 L1341.5 759.0 L1344.5 759.1 L1347.5 759.3 L1350.5 759.5 L1353.5 759.7 L1356.5 759.9 L1359.4 760.0 L1362.4 760.2 L1365.4 760.4 L1368.4 760.5 L1371.4 760.7 L1374.4 760.9 L1377.4 761.0 L1380.3 761.2 L1383.3 761.4 L1386.3 761.5 L1389.3 761.7 L1392.3 761.9 L1395.3 762.0 L1398.3 762.2 L1401.3 762.3 L1404.3 762.5 L1407.2 762.7 L1410.2 762.8 L1413.2 763.0 L1416.2 763.2 L1419.2 763.3 L1422.2 763.5 L1425.2 763.7 L1428.2 763.8 L1431.1 764.0 L1434.1 764.2 L1437.1 764.3 L1440.1 764.5 L1443.1 764.7 L1446.1 764.9 L1449.1 765.0 L1452.1 765.2 L1455.1 765.4 L1458.1 765.6 L1461.0 765.8 L1464.0 765.9 L1467.0 766.1 L1470.0 766.3 L1473.0 766.5 L1476.0 766.6 L1479.0 766.8 L1482.0 767.0 L1485.0 767.2 L1488.0 767.4 L1490.9 767.5 L1493.9 767.7 L1496.9 767.9 L1499.9 768.1 L1502.9 768.3 L1505.9 768.5 L1508.9 768.6 L1511.9 768.8 L1514.9 769.0 L1517.9 769.2 L1520.9 769.4 L1523.8 769.5 L1526.8 769.7 L1529.8 769.9 L1532.8 770.1 L1535.8 770.3 L1538.8 770.4 L1541.8 770.6 L1544.8 770.8 L1547.8 771.0 L1550.8 771.2 L1553.8 771.3 L1556.8 771.5 L1559.8 771.7 L1562.7 771.9 L1565.7 772.0 L1568.7 772.2 L1571.7 772.4 L1574.7 772.6 L1577.7 772.7 L1580.7 772.9 L1583.7 773.1 L1586.7 773.2 L1589.7 773.4 L1592.7 773.6 L1595.7 773.7 L1598.7 773.9 L1601.7 774.1 L1604.6 774.2 L1607.6 774.4 L1610.6 774.5 L1613.6 774.7 L1616.6 774.9 L1619.6 775.0 L1622.6 775.2 L1625.6 775.3 L1628.6 775.5 L1631.6 775.6 L1634.6 775.8 L1637.6 775.9 L1640.6 776.1 L1643.6 776.2 L1646.6 776.4 L1649.6 776.5 L1652.6 776.7 L1655.6 776.8 L1658.5 776.9 L1661.5 777.1 L1664.5 777.2 L1667.5 777.4 L1670.5 777.5 L1673.5 777.7 L1676.5 777.8 L1679.5 777.9 L1682.5 778.1 L1685.5 778.2 L1688.5 778.4 L1691.5 778.5 L1694.5 778.6 L1697.5 778.8 L1700.5 778.9 L1703.5 779.1 L1706.5 779.2 L1709.5 779.4 L1712.5 779.5 L1715.5 779.7 L1718.5 779.8 L1721.5 780.0 L1724.5 780.1 L1727.4 780.3 L1730.4 780.5 L1733.4 780.6 L1736.4 780.8 L1739.4 781.0 L1742.4 781.1 L1745.4 781.3 L1748.4 781.5 L1751.4 781.7 L1754.4 781.9 L1757.4 782.0 L1760.4 782.2 L1763.4 782.4 L1766.4 782.6 L1769.4 782.8 L1772.4 783.0 L1775.4 783.2 L1778.4 783.5 L1781.4 783.7 L1784.4 783.9 L1787.4 784.1 L1790.4 784.4 L1793.4 784.6 L1796.4 784.8 L1799.4 785.1 L1802.4 785.3 L1805.4 785.6 L1808.4 785.8 L1811.4 786.1 L1814.4 786.4 L1817.4 786.7 L1820.4 786.9 L1821.0 787.0"/>
<path transform="translate(1.05 0)" d="M490.3 344.0 L492.0 348.0 L494.0 350.2 L496.0 352.5 L497.9 354.7 L499.9 357.0 L501.8 359.3 L503.7 361.6 L505.5 363.9 L507.4 366.2 L509.2 368.6 L511.1 370.9 L512.9 373.3 L514.6 375.7 L516.4 378.1 L518.1 380.5 L519.9 383.0 L521.6 385.4 L523.3 387.9 L525.0 390.4 L526.7 392.8 L528.3 395.3 L530.0 397.8 L531.6 400.3 L533.2 402.9 L534.8 405.4 L536.4 407.9 L538.0 410.5 L539.6 413.0 L541.2 415.6 L542.7 418.2 L544.3 420.7 L545.8 423.3 L547.3 425.9 L548.9 428.5 L550.4 431.1 L551.9 433.7 L553.4 436.3 L554.9 438.9 L556.4 441.5 L557.9 444.1 L559.3 446.7 L560.8 449.4 L562.3 452.0 L563.8 454.6 L565.2 457.2 L566.7 459.8 L568.1 462.4 L569.6 465.1 L571.1 467.7 L572.5 470.3 L574.0 472.9 L575.4 475.5 L576.9 478.1 L578.4 480.7 L579.8 483.3 L581.3 485.9 L582.8 488.5 L584.2 491.1 L585.7 493.7 L587.2 496.3 L588.7 498.9 L590.2 501.4 L591.7 504.0 L593.2 506.6 L594.7 509.1 L596.3 511.7 L597.8 514.2 L599.4 516.8 L600.9 519.3 L602.5 521.8 L604.1 524.4 L605.7 526.9 L607.3 529.4 L608.9 531.9 L610.5 534.4 L612.2 536.8 L613.8 539.3 L615.5 541.8 L617.2 544.2 L618.9 546.7 L620.6 549.1 L622.4 551.5 L624.1 553.9 L625.9 556.3 L627.7 558.7 L629.5 561.1 L631.4 563.4 L633.2 565.8 L635.1 568.1 L637.0 570.5 L638.9 572.8 L640.9 575.1 L642.8 577.4 L644.8 579.6 L646.9 581.9 L648.9 584.1 L650.9 586.3 L653.0 588.6 L655.1 590.7 L657.3 592.9 L659.4 595.1 L661.6 597.2 L663.7 599.3 L665.9 601.4 L668.2 603.5 L670.4 605.6 L672.7 607.6 L674.9 609.7 L677.2 611.7 L679.5 613.6 L681.9 615.6 L684.2 617.5 L686.6 619.4 L689.0 621.3 L691.4 623.2 L693.8 625.0 L696.2 626.9 L698.7 628.7 L701.1 630.4 L703.6 632.2 L706.1 633.9 L708.6 635.6 L711.1 637.2 L713.6 638.9 L716.2 640.5 L718.7 642.0 L721.3 643.6 L723.9 645.1 L726.5 646.6 L729.1 648.1 L731.7 649.5 L734.3 650.9 L737.0 652.3 L739.6 653.7 L742.3 655.0 L744.9 656.3 L747.6 657.6 L750.3 658.9 L753.0 660.2 L755.7 661.4 L758.4 662.6 L761.2 663.8 L763.9 665.0 L766.6 666.1 L769.4 667.2 L772.1 668.3 L774.9 669.4 L777.7 670.5 L780.4 671.5 L783.2 672.6 L786.0 673.6 L788.8 674.6 L791.6 675.6 L794.4 676.5 L797.2 677.5 L800.0 678.4 L802.8 679.3 L805.6 680.2 L808.5 681.1 L811.3 682.0 L814.1 682.9 L817.0 683.7 L819.8 684.5 L822.7 685.3 L825.5 686.2 L828.4 686.9 L831.2 687.7 L834.1 688.5 L837.0 689.2 L839.8 690.0 L842.7 690.7 L845.6 691.4 L848.5 692.1 L851.4 692.8 L854.3 693.5 L857.2 694.2 L860.1 694.9 L863.0 695.5 L865.9 696.2 L868.8 696.8 L871.7 697.4 L874.6 698.1 L877.5 698.7 L880.4 699.3 L883.4 699.9 L886.3 700.5 L889.2 701.0 L892.1 701.6 L895.1 702.2 L898.0 702.8 L901.0 703.3 L903.9 703.9 L906.8 704.4 L909.8 704.9 L912.7 705.5 L915.7 706.0 L918.6 706.5 L921.6 707.0 L924.5 707.6 L927.5 708.1 L930.5 708.6 L933.4 709.1 L936.4 709.6 L939.3 710.1 L942.3 710.6 L945.3 711.1 L948.2 711.6 L951.2 712.1 L954.2 712.6 L957.1 713.1 L960.1 713.6 L963.1 714.0 L966.1 714.5 L969.0 715.0 L972.0 715.5 L975.0 716.0 L977.9 716.5 L980.9 717.0 L983.9 717.5 L986.9 718.0 L989.8 718.5 L992.8 719.0 L995.8 719.5 L998.8 720.0 L1001.7 720.5 L1004.7 721.0 L1007.7 721.5 L1010.7 722.0 L1013.6 722.5 L1016.6 723.0 L1019.6 723.5 L1022.6 724.0 L1025.5 724.5 L1028.5 725.1 L1031.5 725.6 L1034.5 726.1 L1037.4 726.6 L1040.4 727.1 L1043.4 727.6 L1046.4 728.1 L1049.3 728.6 L1052.3 729.2 L1055.3 729.7 L1058.3 730.2 L1061.2 730.7 L1064.2 731.2 L1067.2 731.7 L1070.2 732.2 L1073.2 732.7 L1076.1 733.2 L1079.1 733.7 L1082.1 734.2 L1085.1 734.7 L1088.0 735.2 L1091.0 735.7 L1094.0 736.2 L1097.0 736.7 L1100.0 737.2 L1102.9 737.7 L1105.9 738.2 L1108.9 738.7 L1111.9 739.2 L1114.8 739.7 L1117.8 740.1 L1120.8 740.6 L1123.8 741.1 L1126.8 741.5 L1129.7 742.0 L1132.7 742.5 L1135.7 742.9 L1138.7 743.3 L1141.7 743.8 L1144.6 744.2 L1147.6 744.6 L1150.6 745.0 L1153.6 745.4 L1156.6 745.8 L1159.5 746.2 L1162.5 746.5 L1165.5 746.9 L1168.5 747.2 L1171.5 747.5 L1174.4 747.8 L1177.4 748.1 L1180.4 748.4 L1183.4 748.7 L1186.4 749.0 L1189.3 749.2 L1192.3 749.5 L1195.3 749.7 L1198.3 750.0 L1201.3 750.2 L1204.3 750.4 L1207.2 750.7 L1210.2 750.9 L1213.2 751.1 L1216.2 751.3 L1219.2 751.5 L1222.1 751.7 L1225.1 752.0 L1228.1 752.2 L1231.1 752.3 L1234.1 752.5 L1237.1 752.7 L1240.0 752.9 L1243.0 753.1 L1246.0 753.3 L1249.0 753.5 L1252.0 753.7 L1255.0 753.8 L1257.9 754.0 L1260.9 754.2 L1263.9 754.4 L1266.9 754.5 L1269.9 754.7 L1272.9 754.9 L1275.8 755.1 L1278.8 755.2 L1281.8 755.4 L1284.8 755.6 L1287.8 755.7 L1290.8 755.9 L1293.8 756.1 L1296.7 756.3 L1299.7 756.4 L1302.7 756.6 L1305.7 756.8 L1308.7 757.0 L1311.7 757.1 L1314.6 757.3 L1317.6 757.5 L1320.6 757.7 L1323.6 757.9 L1326.6 758.0 L1329.6 758.2 L1332.6 758.4 L1335.5 758.6 L1338.5 758.8 L1341.5 759.0 L1344.5 759.1 L1347.5 759.3 L1350.5 759.5 L1353.5 759.7 L1356.5 759.9 L1359.4 760.0 L1362.4 760.2 L1365.4 760.4 L1368.4 760.5 L1371.4 760.7 L1374.4 760.9 L1377.4 761.0 L1380.3 761.2 L1383.3 761.4 L1386.3 761.5 L1389.3 761.7 L1392.3 761.9 L1395.3 762.0 L1398.3 762.2 L1401.3 762.3 L1404.3 762.5 L1407.2 762.7 L1410.2 762.8 L1413.2 763.0 L1416.2 763.2 L1419.2 763.3 L1422.2 763.5 L1425.2 763.7 L1428.2 763.8 L1431.1 764.0 L1434.1 764.2 L1437.1 764.3 L1440.1 764.5 L1443.1 764.7 L1446.1 764.9 L1449.1 765.0 L1452.1 765.2 L1455.1 765.4 L1458.1 765.6 L1461.0 765.8 L1464.0 765.9 L1467.0 766.1 L1470.0 766.3 L1473.0 766.5 L1476.0 766.6 L1479.0 766.8 L1482.0 767.0 L1485.0 767.2 L1488.0 767.4 L1490.9 767.5 L1493.9 767.7 L1496.9 767.9 L1499.9 768.1 L1502.9 768.3 L1505.9 768.5 L1508.9 768.6 L1511.9 768.8 L1514.9 769.0 L1517.9 769.2 L1520.9 769.4 L1523.8 769.5 L1526.8 769.7 L1529.8 769.9 L1532.8 770.1 L1535.8 770.3 L1538.8 770.4 L1541.8 770.6 L1544.8 770.8 L1547.8 771.0 L1550.8 771.2 L1553.8 771.3 L1556.8 771.5 L1559.8 771.7 L1562.7 771.9 L1565.7 772.0 L1568.7 772.2 L1571.7 772.4 L1574.7 772.6 L1577.7 772.7 L1580.7 772.9 L1583.7 773.1 L1586.7 773.2 L1589.7 773.4 L1592.7 773.6 L1595.7 773.7 L1598.7 773.9 L1601.7 774.1 L1604.6 774.2 L1607.6 774.4 L1610.6 774.5 L1613.6 774.7 L1616.6 774.9 L1619.6 775.0 L1622.6 775.2 L1625.6 775.3 L1628.6 775.5 L1631.6 775.6 L1634.6 775.8 L1637.6 775.9 L1640.6 776.1 L1643.6 776.2 L1646.6 776.4 L1649.6 776.5 L1652.6 776.7 L1655.6 776.8 L1658.5 776.9 L1661.5 777.1 L1664.5 777.2 L1667.5 777.4 L1670.5 777.5 L1673.5 777.7 L1676.5 777.8 L1679.5 777.9 L1682.5 778.1 L1685.5 778.2 L1688.5 778.4 L1691.5 778.5 L1694.5 778.6 L1697.5 778.8 L1700.5 778.9 L1703.5 779.1 L1706.5 779.2 L1709.5 779.4 L1712.5 779.5 L1715.5 779.7 L1718.5 779.8 L1721.5 780.0 L1724.5 780.1 L1727.4 780.3 L1730.4 780.5 L1733.4 780.6 L1736.4 780.8 L1739.4 781.0 L1742.4 781.1 L1745.4 781.3 L1748.4 781.5 L1751.4 781.7 L1754.4 781.9 L1757.4 782.0 L1760.4 782.2 L1763.4 782.4 L1766.4 782.6 L1769.4 782.8 L1772.4 783.0 L1775.4 783.2 L1778.4 783.5 L1781.4 783.7 L1784.4 783.9 L1787.4 784.1 L1790.4 784.4 L1793.4 784.6 L1796.4 784.8 L1799.4 785.1 L1802.4 785.3 L1805.4 785.6 L1808.4 785.8 L1811.4 786.1 L1814.4 786.4 L1817.4 786.7 L1820.4 786.9 L1821.0 787.0"/>
</g>
<circle cx="1821.0" cy="787.0" r="3.1" fill="#1A6FDF"/>
<path d="M487.5 313 L487.5 353.5" fill="none" stroke="#37AD6B" stroke-width="6.9" stroke-linecap="butt"/>
<g fill="none" stroke="#37AD6B" stroke-width="6.2" stroke-linejoin="round" stroke-linecap="butt">
<path d="M487.5 349.0 L487.5 352.5 L489.5 354.7 L491.5 357.0 L493.5 359.2 L495.5 361.5 L497.4 363.8 L499.3 366.1 L501.2 368.4 L503.1 370.7 L505.0 373.1 L506.8 375.4 L508.7 377.8 L510.5 380.1 L512.3 382.5 L514.1 384.9 L515.9 387.3 L517.6 389.7 L519.4 392.1 L521.1 394.6 L522.9 397.0 L524.6 399.4 L526.3 401.9 L527.9 404.4 L529.6 406.8 L531.3 409.3 L532.9 411.8 L534.6 414.3 L536.2 416.8 L537.8 419.3 L539.4 421.8 L541.0 424.4 L542.6 426.9 L544.2 429.5 L545.7 432.0 L547.3 434.6 L548.8 437.1 L550.4 439.7 L551.9 442.3 L553.4 444.8 L555.0 447.4 L556.5 450.0 L558.0 452.6 L559.5 455.2 L561.0 457.8 L562.5 460.4 L564.0 463.0 L565.4 465.6 L566.9 468.2 L568.4 470.8 L569.9 473.5 L571.3 476.1 L572.8 478.7 L574.3 481.3 L575.7 484.0 L577.2 486.6 L578.6 489.2 L580.1 491.9 L581.5 494.5 L583.0 497.1 L584.5 499.8 L585.9 502.4 L587.4 505.1 L588.8 507.7 L590.3 510.3 L591.7 513.0 L593.2 515.6 L594.7 518.2 L596.1 520.9 L597.6 523.5 L599.1 526.1 L600.5 528.8 L602.0 531.4 L603.5 534.0 L605.0 536.7 L606.5 539.3 L608.0 541.9 L609.5 544.5 L611.0 547.1 L612.5 549.7 L614.0 552.3 L615.5 554.9 L617.0 557.5 L618.6 560.1 L620.1 562.7 L621.7 565.3 L623.2 567.9 L624.8 570.5 L626.4 573.0 L628.0 575.6 L629.6 578.2 L631.2 580.7 L632.8 583.2 L634.4 585.8 L636.0 588.3 L637.7 590.8 L639.3 593.4 L641.0 595.9 L642.7 598.4 L644.4 600.9 L646.1 603.4 L647.8 605.8 L649.5 608.3 L651.3 610.8 L653.0 613.2 L654.8 615.7 L656.6 618.1 L658.4 620.5 L660.2 622.9 L662.0 625.3 L663.8 627.7 L665.7 630.1 L667.5 632.4 L669.4 634.8 L671.3 637.1 L673.2 639.5 L675.1 641.8 L677.0 644.1 L678.9 646.4 L680.9 648.7 L682.9 650.9 L684.8 653.2 L686.8 655.4 L688.8 657.6 L690.9 659.8 L692.9 662.0 L694.9 664.2 L697.0 666.4 L699.1 668.5 L701.2 670.6 L703.3 672.7 L705.4 674.8 L707.6 676.9 L709.7 679.0 L711.9 681.0 L714.1 683.0 L716.2 685.0 L718.5 687.0 L720.7 689.0 L722.9 690.9 L725.2 692.8 L727.5 694.7 L729.8 696.6 L732.1 698.5 L734.4 700.3 L736.7 702.2 L739.1 704.0 L741.4 705.8 L743.8 707.5 L746.2 709.2 L748.6 711.0 L751.1 712.7 L753.5 714.3 L756.0 716.0 L758.5 717.6 L761.0 719.2 L763.5 720.8 L766.0 722.3 L768.5 723.9 L771.1 725.4 L773.7 726.9 L776.2 728.4 L778.8 729.8 L781.4 731.3 L784.1 732.7 L786.7 734.1 L789.3 735.5 L792.0 736.8 L794.7 738.2 L797.3 739.5 L800.0 740.8 L802.7 742.1 L805.5 743.3 L808.2 744.6 L810.9 745.8 L813.7 747.0 L816.4 748.2 L819.2 749.4 L822.0 750.6 L824.7 751.7 L827.5 752.8 L830.3 753.9 L833.1 755.0 L835.9 756.1 L838.8 757.2 L841.6 758.2 L844.4 759.2 L847.3 760.3 L850.1 761.3 L853.0 762.2 L855.8 763.2 L858.7 764.2 L861.6 765.1 L864.5 766.0 L867.3 767.0 L870.2 767.9 L873.1 768.7 L876.0 769.6 L878.9 770.5 L881.8 771.3 L884.7 772.2 L887.6 773.0 L890.6 773.8 L893.5 774.6 L896.4 775.4 L899.3 776.2 L902.2 776.9 L905.2 777.7 L908.1 778.4 L911.0 779.2 L913.9 779.9 L916.9 780.6 L919.8 781.3 L922.7 782.0 L925.7 782.7 L928.6 783.4 L931.5 784.0 L934.5 784.7 L937.4 785.3 L940.3 786.0 L943.3 786.6 L946.2 787.2 L949.1 787.8 L952.1 788.4 L955.0 789.0 L958.0 789.6 L960.9 790.1 L963.8 790.7 L966.8 791.3 L969.7 791.8 L972.7 792.3 L975.6 792.9 L978.6 793.4 L981.5 793.9 L984.5 794.4 L987.4 794.9 L990.4 795.4 L993.3 795.9 L996.3 796.4 L999.2 796.8 L1002.2 797.3 L1005.1 797.7 L1008.1 798.2 L1011.0 798.6 L1014.0 799.1 L1016.9 799.5 L1019.9 799.9 L1022.8 800.3 L1025.8 800.7 L1028.8 801.1 L1031.7 801.5 L1034.7 801.9 L1037.6 802.3 L1040.6 802.7 L1043.5 803.1 L1046.5 803.4 L1049.5 803.8 L1052.4 804.1 L1055.4 804.5 L1058.4 804.8 L1061.3 805.2 L1064.3 805.5 L1067.3 805.8 L1070.2 806.2 L1073.2 806.5 L1076.2 806.8 L1079.1 807.1 L1082.1 807.4 L1085.1 807.7 L1088.0 808.1 L1091.0 808.3 L1094.0 808.6 L1097.0 808.9 L1099.9 809.2 L1102.9 809.5 L1105.9 809.8 L1108.8 810.1 L1111.8 810.3 L1114.8 810.6 L1117.8 810.9 L1120.7 811.2 L1123.7 811.4 L1126.7 811.7 L1129.7 811.9 L1132.7 812.2 L1135.6 812.5 L1138.6 812.7 L1141.6 813.0 L1144.6 813.2 L1147.6 813.5 L1150.5 813.7 L1153.5 813.9 L1156.5 814.2 L1159.5 814.4 L1162.5 814.7 L1165.4 814.9 L1168.4 815.2 L1171.4 815.4 L1174.4 815.6 L1177.4 815.9 L1180.4 816.1 L1183.4 816.3 L1186.3 816.6 L1189.3 816.8 L1192.3 817.0 L1195.3 817.3 L1198.3 817.5 L1201.3 817.7 L1204.3 817.9 L1207.3 818.2 L1210.3 818.4 L1213.2 818.6 L1216.2 818.8 L1219.2 819.0 L1222.2 819.3 L1225.2 819.5 L1228.2 819.7 L1231.2 819.9 L1234.2 820.1 L1237.2 820.3 L1240.2 820.6 L1243.2 820.8 L1246.2 821.0 L1249.2 821.2 L1252.2 821.4 L1255.2 821.6 L1258.1 821.8 L1261.1 822.0 L1264.1 822.2 L1267.1 822.4 L1270.1 822.6 L1273.1 822.8 L1276.1 823.0 L1279.1 823.2 L1282.1 823.4 L1285.1 823.6 L1288.1 823.8 L1291.1 824.0 L1294.1 824.2 L1297.1 824.4 L1300.1 824.6 L1303.1 824.8 L1306.1 825.0 L1309.1 825.1 L1312.1 825.3 L1315.1 825.5 L1318.1 825.7 L1321.1 825.9 L1324.1 826.1 L1327.1 826.2 L1330.1 826.4 L1333.1 826.6 L1336.1 826.8 L1339.1 827.0 L1342.1 827.1 L1345.2 827.3 L1348.2 827.5 L1351.2 827.7 L1354.2 827.8 L1357.2 828.0 L1360.2 828.2 L1363.2 828.3 L1366.2 828.5 L1369.2 828.7 L1372.2 828.8 L1375.2 829.0 L1378.2 829.2 L1381.2 829.3 L1384.2 829.5 L1387.2 829.6 L1390.2 829.8 L1393.2 830.0 L1396.2 830.1 L1399.2 830.3 L1402.2 830.4 L1405.3 830.6 L1408.3 830.7 L1411.3 830.9 L1414.3 831.0 L1417.3 831.2 L1420.3 831.3 L1423.3 831.5 L1426.3 831.6 L1429.3 831.8 L1432.3 831.9 L1435.3 832.1 L1438.3 832.2 L1441.3 832.3 L1444.3 832.5 L1447.3 832.6 L1450.4 832.8 L1453.4 832.9 L1456.4 833.0 L1459.4 833.2 L1462.4 833.3 L1465.4 833.4 L1468.4 833.6 L1471.4 833.7 L1474.4 833.8 L1477.4 834.0 L1480.4 834.1 L1483.4 834.2 L1486.4 834.4 L1489.5 834.5 L1492.5 834.6 L1495.5 834.8 L1498.5 834.9 L1501.5 835.0 L1504.5 835.1 L1507.5 835.3 L1510.5 835.4 L1513.5 835.5 L1516.5 835.6 L1519.5 835.8 L1522.5 835.9 L1525.5 836.0 L1528.5 836.1 L1531.6 836.2 L1534.6 836.4 L1537.6 836.5 L1540.6 836.6 L1543.6 836.7 L1546.6 836.8 L1549.6 837.0 L1552.6 837.1 L1555.6 837.2 L1558.6 837.3 L1561.6 837.4 L1564.6 837.5 L1567.6 837.6 L1570.6 837.8 L1573.6 837.9 L1576.6 838.0 L1579.6 838.1 L1582.6 838.2 L1585.6 838.3 L1588.7 838.4 L1591.7 838.5 L1594.7 838.7 L1597.7 838.8 L1600.7 838.9 L1603.7 839.0 L1606.7 839.1 L1609.7 839.2 L1612.7 839.3 L1615.7 839.4 L1618.7 839.5 L1621.7 839.6 L1624.7 839.7 L1627.7 839.9 L1630.7 840.0 L1633.7 840.1 L1636.7 840.2 L1639.7 840.3 L1642.7 840.4 L1645.7 840.5 L1648.7 840.6 L1651.7 840.7 L1654.7 840.8 L1657.7 840.9 L1660.7 841.0 L1663.7 841.1 L1666.7 841.2 L1669.7 841.3 L1672.7 841.5 L1675.7 841.6 L1678.7 841.7 L1681.7 841.8 L1684.7 841.9 L1687.7 842.0 L1690.7 842.1 L1693.6 842.2 L1696.6 842.3 L1699.6 842.4 L1702.6 842.5 L1705.6 842.6 L1708.6 842.7 L1711.6 842.8 L1714.6 842.9 L1717.6 843.0 L1720.6 843.1 L1723.6 843.2 L1726.6 843.3 L1729.6 843.5 L1732.6 843.6 L1735.5 843.7 L1738.5 843.8 L1741.5 843.9 L1744.5 844.0 L1747.5 844.1 L1750.5 844.2 L1753.5 844.3 L1756.5 844.4 L1759.4 844.5 L1762.4 844.6 L1765.4 844.7 L1768.4 844.8 L1771.4 845.0 L1774.4 845.1 L1777.4 845.2 L1780.3 845.3 L1783.3 845.4 L1786.3 845.5 L1789.3 845.6 L1792.3 845.7 L1795.3 845.8 L1798.2 845.9 L1801.2 846.1 L1804.2 846.2 L1807.2 846.3 L1810.1 846.4 L1813.1 846.5 L1816.1 846.6 L1819.1 846.7 L1822.1 846.8 L1825.0 847.0 L1826.0 847.0"/>
<path transform="translate(-1.05 0)" d="M487.5 349.0 L487.5 352.5 L489.5 354.7 L491.5 357.0 L493.5 359.2 L495.5 361.5 L497.4 363.8 L499.3 366.1 L501.2 368.4 L503.1 370.7 L505.0 373.1 L506.8 375.4 L508.7 377.8 L510.5 380.1 L512.3 382.5 L514.1 384.9 L515.9 387.3 L517.6 389.7 L519.4 392.1 L521.1 394.6 L522.9 397.0 L524.6 399.4 L526.3 401.9 L527.9 404.4 L529.6 406.8 L531.3 409.3 L532.9 411.8 L534.6 414.3 L536.2 416.8 L537.8 419.3 L539.4 421.8 L541.0 424.4 L542.6 426.9 L544.2 429.5 L545.7 432.0 L547.3 434.6 L548.8 437.1 L550.4 439.7 L551.9 442.3 L553.4 444.8 L555.0 447.4 L556.5 450.0 L558.0 452.6 L559.5 455.2 L561.0 457.8 L562.5 460.4 L564.0 463.0 L565.4 465.6 L566.9 468.2 L568.4 470.8 L569.9 473.5 L571.3 476.1 L572.8 478.7 L574.3 481.3 L575.7 484.0 L577.2 486.6 L578.6 489.2 L580.1 491.9 L581.5 494.5 L583.0 497.1 L584.5 499.8 L585.9 502.4 L587.4 505.1 L588.8 507.7 L590.3 510.3 L591.7 513.0 L593.2 515.6 L594.7 518.2 L596.1 520.9 L597.6 523.5 L599.1 526.1 L600.5 528.8 L602.0 531.4 L603.5 534.0 L605.0 536.7 L606.5 539.3 L608.0 541.9 L609.5 544.5 L611.0 547.1 L612.5 549.7 L614.0 552.3 L615.5 554.9 L617.0 557.5 L618.6 560.1 L620.1 562.7 L621.7 565.3 L623.2 567.9 L624.8 570.5 L626.4 573.0 L628.0 575.6 L629.6 578.2 L631.2 580.7 L632.8 583.2 L634.4 585.8 L636.0 588.3 L637.7 590.8 L639.3 593.4 L641.0 595.9 L642.7 598.4 L644.4 600.9 L646.1 603.4 L647.8 605.8 L649.5 608.3 L651.3 610.8 L653.0 613.2 L654.8 615.7 L656.6 618.1 L658.4 620.5 L660.2 622.9 L662.0 625.3 L663.8 627.7 L665.7 630.1 L667.5 632.4 L669.4 634.8 L671.3 637.1 L673.2 639.5 L675.1 641.8 L677.0 644.1 L678.9 646.4 L680.9 648.7 L682.9 650.9 L684.8 653.2 L686.8 655.4 L688.8 657.6 L690.9 659.8 L692.9 662.0 L694.9 664.2 L697.0 666.4 L699.1 668.5 L701.2 670.6 L703.3 672.7 L705.4 674.8 L707.6 676.9 L709.7 679.0 L711.9 681.0 L714.1 683.0 L716.2 685.0 L718.5 687.0 L720.7 689.0 L722.9 690.9 L725.2 692.8 L727.5 694.7 L729.8 696.6 L732.1 698.5 L734.4 700.3 L736.7 702.2 L739.1 704.0 L741.4 705.8 L743.8 707.5 L746.2 709.2 L748.6 711.0 L751.1 712.7 L753.5 714.3 L756.0 716.0 L758.5 717.6 L761.0 719.2 L763.5 720.8 L766.0 722.3 L768.5 723.9 L771.1 725.4 L773.7 726.9 L776.2 728.4 L778.8 729.8 L781.4 731.3 L784.1 732.7 L786.7 734.1 L789.3 735.5 L792.0 736.8 L794.7 738.2 L797.3 739.5 L800.0 740.8 L802.7 742.1 L805.5 743.3 L808.2 744.6 L810.9 745.8 L813.7 747.0 L816.4 748.2 L819.2 749.4 L822.0 750.6 L824.7 751.7 L827.5 752.8 L830.3 753.9 L833.1 755.0 L835.9 756.1 L838.8 757.2 L841.6 758.2 L844.4 759.2 L847.3 760.3 L850.1 761.3 L853.0 762.2 L855.8 763.2 L858.7 764.2 L861.6 765.1 L864.5 766.0 L867.3 767.0 L870.2 767.9 L873.1 768.7 L876.0 769.6 L878.9 770.5 L881.8 771.3 L884.7 772.2 L887.6 773.0 L890.6 773.8 L893.5 774.6 L896.4 775.4 L899.3 776.2 L902.2 776.9 L905.2 777.7 L908.1 778.4 L911.0 779.2 L913.9 779.9 L916.9 780.6 L919.8 781.3 L922.7 782.0 L925.7 782.7 L928.6 783.4 L931.5 784.0 L934.5 784.7 L937.4 785.3 L940.3 786.0 L943.3 786.6 L946.2 787.2 L949.1 787.8 L952.1 788.4 L955.0 789.0 L958.0 789.6 L960.9 790.1 L963.8 790.7 L966.8 791.3 L969.7 791.8 L972.7 792.3 L975.6 792.9 L978.6 793.4 L981.5 793.9 L984.5 794.4 L987.4 794.9 L990.4 795.4 L993.3 795.9 L996.3 796.4 L999.2 796.8 L1002.2 797.3 L1005.1 797.7 L1008.1 798.2 L1011.0 798.6 L1014.0 799.1 L1016.9 799.5 L1019.9 799.9 L1022.8 800.3 L1025.8 800.7 L1028.8 801.1 L1031.7 801.5 L1034.7 801.9 L1037.6 802.3 L1040.6 802.7 L1043.5 803.1 L1046.5 803.4 L1049.5 803.8 L1052.4 804.1 L1055.4 804.5 L1058.4 804.8 L1061.3 805.2 L1064.3 805.5 L1067.3 805.8 L1070.2 806.2 L1073.2 806.5 L1076.2 806.8 L1079.1 807.1 L1082.1 807.4 L1085.1 807.7 L1088.0 808.1 L1091.0 808.3 L1094.0 808.6 L1097.0 808.9 L1099.9 809.2 L1102.9 809.5 L1105.9 809.8 L1108.8 810.1 L1111.8 810.3 L1114.8 810.6 L1117.8 810.9 L1120.7 811.2 L1123.7 811.4 L1126.7 811.7 L1129.7 811.9 L1132.7 812.2 L1135.6 812.5 L1138.6 812.7 L1141.6 813.0 L1144.6 813.2 L1147.6 813.5 L1150.5 813.7 L1153.5 813.9 L1156.5 814.2 L1159.5 814.4 L1162.5 814.7 L1165.4 814.9 L1168.4 815.2 L1171.4 815.4 L1174.4 815.6 L1177.4 815.9 L1180.4 816.1 L1183.4 816.3 L1186.3 816.6 L1189.3 816.8 L1192.3 817.0 L1195.3 817.3 L1198.3 817.5 L1201.3 817.7 L1204.3 817.9 L1207.3 818.2 L1210.3 818.4 L1213.2 818.6 L1216.2 818.8 L1219.2 819.0 L1222.2 819.3 L1225.2 819.5 L1228.2 819.7 L1231.2 819.9 L1234.2 820.1 L1237.2 820.3 L1240.2 820.6 L1243.2 820.8 L1246.2 821.0 L1249.2 821.2 L1252.2 821.4 L1255.2 821.6 L1258.1 821.8 L1261.1 822.0 L1264.1 822.2 L1267.1 822.4 L1270.1 822.6 L1273.1 822.8 L1276.1 823.0 L1279.1 823.2 L1282.1 823.4 L1285.1 823.6 L1288.1 823.8 L1291.1 824.0 L1294.1 824.2 L1297.1 824.4 L1300.1 824.6 L1303.1 824.8 L1306.1 825.0 L1309.1 825.1 L1312.1 825.3 L1315.1 825.5 L1318.1 825.7 L1321.1 825.9 L1324.1 826.1 L1327.1 826.2 L1330.1 826.4 L1333.1 826.6 L1336.1 826.8 L1339.1 827.0 L1342.1 827.1 L1345.2 827.3 L1348.2 827.5 L1351.2 827.7 L1354.2 827.8 L1357.2 828.0 L1360.2 828.2 L1363.2 828.3 L1366.2 828.5 L1369.2 828.7 L1372.2 828.8 L1375.2 829.0 L1378.2 829.2 L1381.2 829.3 L1384.2 829.5 L1387.2 829.6 L1390.2 829.8 L1393.2 830.0 L1396.2 830.1 L1399.2 830.3 L1402.2 830.4 L1405.3 830.6 L1408.3 830.7 L1411.3 830.9 L1414.3 831.0 L1417.3 831.2 L1420.3 831.3 L1423.3 831.5 L1426.3 831.6 L1429.3 831.8 L1432.3 831.9 L1435.3 832.1 L1438.3 832.2 L1441.3 832.3 L1444.3 832.5 L1447.3 832.6 L1450.4 832.8 L1453.4 832.9 L1456.4 833.0 L1459.4 833.2 L1462.4 833.3 L1465.4 833.4 L1468.4 833.6 L1471.4 833.7 L1474.4 833.8 L1477.4 834.0 L1480.4 834.1 L1483.4 834.2 L1486.4 834.4 L1489.5 834.5 L1492.5 834.6 L1495.5 834.8 L1498.5 834.9 L1501.5 835.0 L1504.5 835.1 L1507.5 835.3 L1510.5 835.4 L1513.5 835.5 L1516.5 835.6 L1519.5 835.8 L1522.5 835.9 L1525.5 836.0 L1528.5 836.1 L1531.6 836.2 L1534.6 836.4 L1537.6 836.5 L1540.6 836.6 L1543.6 836.7 L1546.6 836.8 L1549.6 837.0 L1552.6 837.1 L1555.6 837.2 L1558.6 837.3 L1561.6 837.4 L1564.6 837.5 L1567.6 837.6 L1570.6 837.8 L1573.6 837.9 L1576.6 838.0 L1579.6 838.1 L1582.6 838.2 L1585.6 838.3 L1588.7 838.4 L1591.7 838.5 L1594.7 838.7 L1597.7 838.8 L1600.7 838.9 L1603.7 839.0 L1606.7 839.1 L1609.7 839.2 L1612.7 839.3 L1615.7 839.4 L1618.7 839.5 L1621.7 839.6 L1624.7 839.7 L1627.7 839.9 L1630.7 840.0 L1633.7 840.1 L1636.7 840.2 L1639.7 840.3 L1642.7 840.4 L1645.7 840.5 L1648.7 840.6 L1651.7 840.7 L1654.7 840.8 L1657.7 840.9 L1660.7 841.0 L1663.7 841.1 L1666.7 841.2 L1669.7 841.3 L1672.7 841.5 L1675.7 841.6 L1678.7 841.7 L1681.7 841.8 L1684.7 841.9 L1687.7 842.0 L1690.7 842.1 L1693.6 842.2 L1696.6 842.3 L1699.6 842.4 L1702.6 842.5 L1705.6 842.6 L1708.6 842.7 L1711.6 842.8 L1714.6 842.9 L1717.6 843.0 L1720.6 843.1 L1723.6 843.2 L1726.6 843.3 L1729.6 843.5 L1732.6 843.6 L1735.5 843.7 L1738.5 843.8 L1741.5 843.9 L1744.5 844.0 L1747.5 844.1 L1750.5 844.2 L1753.5 844.3 L1756.5 844.4 L1759.4 844.5 L1762.4 844.6 L1765.4 844.7 L1768.4 844.8 L1771.4 845.0 L1774.4 845.1 L1777.4 845.2 L1780.3 845.3 L1783.3 845.4 L1786.3 845.5 L1789.3 845.6 L1792.3 845.7 L1795.3 845.8 L1798.2 845.9 L1801.2 846.1 L1804.2 846.2 L1807.2 846.3 L1810.1 846.4 L1813.1 846.5 L1816.1 846.6 L1819.1 846.7 L1822.1 846.8 L1825.0 847.0 L1826.0 847.0"/>
<path transform="translate(1.05 0)" d="M487.5 349.0 L487.5 352.5 L489.5 354.7 L491.5 357.0 L493.5 359.2 L495.5 361.5 L497.4 363.8 L499.3 366.1 L501.2 368.4 L503.1 370.7 L505.0 373.1 L506.8 375.4 L508.7 377.8 L510.5 380.1 L512.3 382.5 L514.1 384.9 L515.9 387.3 L517.6 389.7 L519.4 392.1 L521.1 394.6 L522.9 397.0 L524.6 399.4 L526.3 401.9 L527.9 404.4 L529.6 406.8 L531.3 409.3 L532.9 411.8 L534.6 414.3 L536.2 416.8 L537.8 419.3 L539.4 421.8 L541.0 424.4 L542.6 426.9 L544.2 429.5 L545.7 432.0 L547.3 434.6 L548.8 437.1 L550.4 439.7 L551.9 442.3 L553.4 444.8 L555.0 447.4 L556.5 450.0 L558.0 452.6 L559.5 455.2 L561.0 457.8 L562.5 460.4 L564.0 463.0 L565.4 465.6 L566.9 468.2 L568.4 470.8 L569.9 473.5 L571.3 476.1 L572.8 478.7 L574.3 481.3 L575.7 484.0 L577.2 486.6 L578.6 489.2 L580.1 491.9 L581.5 494.5 L583.0 497.1 L584.5 499.8 L585.9 502.4 L587.4 505.1 L588.8 507.7 L590.3 510.3 L591.7 513.0 L593.2 515.6 L594.7 518.2 L596.1 520.9 L597.6 523.5 L599.1 526.1 L600.5 528.8 L602.0 531.4 L603.5 534.0 L605.0 536.7 L606.5 539.3 L608.0 541.9 L609.5 544.5 L611.0 547.1 L612.5 549.7 L614.0 552.3 L615.5 554.9 L617.0 557.5 L618.6 560.1 L620.1 562.7 L621.7 565.3 L623.2 567.9 L624.8 570.5 L626.4 573.0 L628.0 575.6 L629.6 578.2 L631.2 580.7 L632.8 583.2 L634.4 585.8 L636.0 588.3 L637.7 590.8 L639.3 593.4 L641.0 595.9 L642.7 598.4 L644.4 600.9 L646.1 603.4 L647.8 605.8 L649.5 608.3 L651.3 610.8 L653.0 613.2 L654.8 615.7 L656.6 618.1 L658.4 620.5 L660.2 622.9 L662.0 625.3 L663.8 627.7 L665.7 630.1 L667.5 632.4 L669.4 634.8 L671.3 637.1 L673.2 639.5 L675.1 641.8 L677.0 644.1 L678.9 646.4 L680.9 648.7 L682.9 650.9 L684.8 653.2 L686.8 655.4 L688.8 657.6 L690.9 659.8 L692.9 662.0 L694.9 664.2 L697.0 666.4 L699.1 668.5 L701.2 670.6 L703.3 672.7 L705.4 674.8 L707.6 676.9 L709.7 679.0 L711.9 681.0 L714.1 683.0 L716.2 685.0 L718.5 687.0 L720.7 689.0 L722.9 690.9 L725.2 692.8 L727.5 694.7 L729.8 696.6 L732.1 698.5 L734.4 700.3 L736.7 702.2 L739.1 704.0 L741.4 705.8 L743.8 707.5 L746.2 709.2 L748.6 711.0 L751.1 712.7 L753.5 714.3 L756.0 716.0 L758.5 717.6 L761.0 719.2 L763.5 720.8 L766.0 722.3 L768.5 723.9 L771.1 725.4 L773.7 726.9 L776.2 728.4 L778.8 729.8 L781.4 731.3 L784.1 732.7 L786.7 734.1 L789.3 735.5 L792.0 736.8 L794.7 738.2 L797.3 739.5 L800.0 740.8 L802.7 742.1 L805.5 743.3 L808.2 744.6 L810.9 745.8 L813.7 747.0 L816.4 748.2 L819.2 749.4 L822.0 750.6 L824.7 751.7 L827.5 752.8 L830.3 753.9 L833.1 755.0 L835.9 756.1 L838.8 757.2 L841.6 758.2 L844.4 759.2 L847.3 760.3 L850.1 761.3 L853.0 762.2 L855.8 763.2 L858.7 764.2 L861.6 765.1 L864.5 766.0 L867.3 767.0 L870.2 767.9 L873.1 768.7 L876.0 769.6 L878.9 770.5 L881.8 771.3 L884.7 772.2 L887.6 773.0 L890.6 773.8 L893.5 774.6 L896.4 775.4 L899.3 776.2 L902.2 776.9 L905.2 777.7 L908.1 778.4 L911.0 779.2 L913.9 779.9 L916.9 780.6 L919.8 781.3 L922.7 782.0 L925.7 782.7 L928.6 783.4 L931.5 784.0 L934.5 784.7 L937.4 785.3 L940.3 786.0 L943.3 786.6 L946.2 787.2 L949.1 787.8 L952.1 788.4 L955.0 789.0 L958.0 789.6 L960.9 790.1 L963.8 790.7 L966.8 791.3 L969.7 791.8 L972.7 792.3 L975.6 792.9 L978.6 793.4 L981.5 793.9 L984.5 794.4 L987.4 794.9 L990.4 795.4 L993.3 795.9 L996.3 796.4 L999.2 796.8 L1002.2 797.3 L1005.1 797.7 L1008.1 798.2 L1011.0 798.6 L1014.0 799.1 L1016.9 799.5 L1019.9 799.9 L1022.8 800.3 L1025.8 800.7 L1028.8 801.1 L1031.7 801.5 L1034.7 801.9 L1037.6 802.3 L1040.6 802.7 L1043.5 803.1 L1046.5 803.4 L1049.5 803.8 L1052.4 804.1 L1055.4 804.5 L1058.4 804.8 L1061.3 805.2 L1064.3 805.5 L1067.3 805.8 L1070.2 806.2 L1073.2 806.5 L1076.2 806.8 L1079.1 807.1 L1082.1 807.4 L1085.1 807.7 L1088.0 808.1 L1091.0 808.3 L1094.0 808.6 L1097.0 808.9 L1099.9 809.2 L1102.9 809.5 L1105.9 809.8 L1108.8 810.1 L1111.8 810.3 L1114.8 810.6 L1117.8 810.9 L1120.7 811.2 L1123.7 811.4 L1126.7 811.7 L1129.7 811.9 L1132.7 812.2 L1135.6 812.5 L1138.6 812.7 L1141.6 813.0 L1144.6 813.2 L1147.6 813.5 L1150.5 813.7 L1153.5 813.9 L1156.5 814.2 L1159.5 814.4 L1162.5 814.7 L1165.4 814.9 L1168.4 815.2 L1171.4 815.4 L1174.4 815.6 L1177.4 815.9 L1180.4 816.1 L1183.4 816.3 L1186.3 816.6 L1189.3 816.8 L1192.3 817.0 L1195.3 817.3 L1198.3 817.5 L1201.3 817.7 L1204.3 817.9 L1207.3 818.2 L1210.3 818.4 L1213.2 818.6 L1216.2 818.8 L1219.2 819.0 L1222.2 819.3 L1225.2 819.5 L1228.2 819.7 L1231.2 819.9 L1234.2 820.1 L1237.2 820.3 L1240.2 820.6 L1243.2 820.8 L1246.2 821.0 L1249.2 821.2 L1252.2 821.4 L1255.2 821.6 L1258.1 821.8 L1261.1 822.0 L1264.1 822.2 L1267.1 822.4 L1270.1 822.6 L1273.1 822.8 L1276.1 823.0 L1279.1 823.2 L1282.1 823.4 L1285.1 823.6 L1288.1 823.8 L1291.1 824.0 L1294.1 824.2 L1297.1 824.4 L1300.1 824.6 L1303.1 824.8 L1306.1 825.0 L1309.1 825.1 L1312.1 825.3 L1315.1 825.5 L1318.1 825.7 L1321.1 825.9 L1324.1 826.1 L1327.1 826.2 L1330.1 826.4 L1333.1 826.6 L1336.1 826.8 L1339.1 827.0 L1342.1 827.1 L1345.2 827.3 L1348.2 827.5 L1351.2 827.7 L1354.2 827.8 L1357.2 828.0 L1360.2 828.2 L1363.2 828.3 L1366.2 828.5 L1369.2 828.7 L1372.2 828.8 L1375.2 829.0 L1378.2 829.2 L1381.2 829.3 L1384.2 829.5 L1387.2 829.6 L1390.2 829.8 L1393.2 830.0 L1396.2 830.1 L1399.2 830.3 L1402.2 830.4 L1405.3 830.6 L1408.3 830.7 L1411.3 830.9 L1414.3 831.0 L1417.3 831.2 L1420.3 831.3 L1423.3 831.5 L1426.3 831.6 L1429.3 831.8 L1432.3 831.9 L1435.3 832.1 L1438.3 832.2 L1441.3 832.3 L1444.3 832.5 L1447.3 832.6 L1450.4 832.8 L1453.4 832.9 L1456.4 833.0 L1459.4 833.2 L1462.4 833.3 L1465.4 833.4 L1468.4 833.6 L1471.4 833.7 L1474.4 833.8 L1477.4 834.0 L1480.4 834.1 L1483.4 834.2 L1486.4 834.4 L1489.5 834.5 L1492.5 834.6 L1495.5 834.8 L1498.5 834.9 L1501.5 835.0 L1504.5 835.1 L1507.5 835.3 L1510.5 835.4 L1513.5 835.5 L1516.5 835.6 L1519.5 835.8 L1522.5 835.9 L1525.5 836.0 L1528.5 836.1 L1531.6 836.2 L1534.6 836.4 L1537.6 836.5 L1540.6 836.6 L1543.6 836.7 L1546.6 836.8 L1549.6 837.0 L1552.6 837.1 L1555.6 837.2 L1558.6 837.3 L1561.6 837.4 L1564.6 837.5 L1567.6 837.6 L1570.6 837.8 L1573.6 837.9 L1576.6 838.0 L1579.6 838.1 L1582.6 838.2 L1585.6 838.3 L1588.7 838.4 L1591.7 838.5 L1594.7 838.7 L1597.7 838.8 L1600.7 838.9 L1603.7 839.0 L1606.7 839.1 L1609.7 839.2 L1612.7 839.3 L1615.7 839.4 L1618.7 839.5 L1621.7 839.6 L1624.7 839.7 L1627.7 839.9 L1630.7 840.0 L1633.7 840.1 L1636.7 840.2 L1639.7 840.3 L1642.7 840.4 L1645.7 840.5 L1648.7 840.6 L1651.7 840.7 L1654.7 840.8 L1657.7 840.9 L1660.7 841.0 L1663.7 841.1 L1666.7 841.2 L1669.7 841.3 L1672.7 841.5 L1675.7 841.6 L1678.7 841.7 L1681.7 841.8 L1684.7 841.9 L1687.7 842.0 L1690.7 842.1 L1693.6 842.2 L1696.6 842.3 L1699.6 842.4 L1702.6 842.5 L1705.6 842.6 L1708.6 842.7 L1711.6 842.8 L1714.6 842.9 L1717.6 843.0 L1720.6 843.1 L1723.6 843.2 L1726.6 843.3 L1729.6 843.5 L1732.6 843.6 L1735.5 843.7 L1738.5 843.8 L1741.5 843.9 L1744.5 844.0 L1747.5 844.1 L1750.5 844.2 L1753.5 844.3 L1756.5 844.4 L1759.4 844.5 L1762.4 844.6 L1765.4 844.7 L1768.4 844.8 L1771.4 845.0 L1774.4 845.1 L1777.4 845.2 L1780.3 845.3 L1783.3 845.4 L1786.3 845.5 L1789.3 845.6 L1792.3 845.7 L1795.3 845.8 L1798.2 845.9 L1801.2 846.1 L1804.2 846.2 L1807.2 846.3 L1810.1 846.4 L1813.1 846.5 L1816.1 846.6 L1819.1 846.7 L1822.1 846.8 L1825.0 847.0 L1826.0 847.0"/>
</g>
<circle cx="1826.0" cy="847.0" r="3.1" fill="#37AD6B"/>
<path d="M1195.8 793.2 L1195.8 816 M1194.2 814 L1194.2 826.3" fill="none" stroke="#37AD6B" stroke-width="6" stroke-linecap="round"/>
<ellipse cx="1195.2" cy="817.8" rx="6.3" ry="7" fill="#37AD6B"/>
<g stroke="#000" stroke-width="6" fill="none">
<rect x="313.0" y="40.0" width="1684.0" height="1375.0"/>
<line x1="313.00" y1="1415.0" x2="313.00" y2="1428.5"/>
<line x1="412.06" y1="1415.0" x2="412.06" y2="1442.0"/>
<line x1="511.12" y1="1415.0" x2="511.12" y2="1428.5"/>
<line x1="610.18" y1="1415.0" x2="610.18" y2="1442.0"/>
<line x1="709.24" y1="1415.0" x2="709.24" y2="1428.5"/>
<line x1="808.29" y1="1415.0" x2="808.29" y2="1442.0"/>
<line x1="907.35" y1="1415.0" x2="907.35" y2="1428.5"/>
<line x1="1006.41" y1="1415.0" x2="1006.41" y2="1442.0"/>
<line x1="1105.47" y1="1415.0" x2="1105.47" y2="1428.5"/>
<line x1="1204.53" y1="1415.0" x2="1204.53" y2="1442.0"/>
<line x1="1303.59" y1="1415.0" x2="1303.59" y2="1428.5"/>
<line x1="1402.65" y1="1415.0" x2="1402.65" y2="1442.0"/>
<line x1="1501.71" y1="1415.0" x2="1501.71" y2="1428.5"/>
<line x1="1600.76" y1="1415.0" x2="1600.76" y2="1442.0"/>
<line x1="1699.82" y1="1415.0" x2="1699.82" y2="1428.5"/>
<line x1="1798.88" y1="1415.0" x2="1798.88" y2="1442.0"/>
<line x1="1897.94" y1="1415.0" x2="1897.94" y2="1428.5"/>
<line x1="1997.00" y1="1415.0" x2="1997.00" y2="1442.0"/>
<line x1="313.0" y1="1415.00" x2="286.0" y2="1415.00"/>
<line x1="313.0" y1="1323.33" x2="299.5" y2="1323.33"/>
<line x1="313.0" y1="1231.67" x2="286.0" y2="1231.67"/>
<line x1="313.0" y1="1140.00" x2="299.5" y2="1140.00"/>
<line x1="313.0" y1="1048.33" x2="286.0" y2="1048.33"/>
<line x1="313.0" y1="956.67" x2="299.5" y2="956.67"/>
<line x1="313.0" y1="865.00" x2="286.0" y2="865.00"/>
<line x1="313.0" y1="773.33" x2="299.5" y2="773.33"/>
<line x1="313.0" y1="681.67" x2="286.0" y2="681.67"/>
<line x1="313.0" y1="590.00" x2="299.5" y2="590.00"/>
<line x1="313.0" y1="498.33" x2="286.0" y2="498.33"/>
<line x1="313.0" y1="406.67" x2="299.5" y2="406.67"/>
<line x1="313.0" y1="315.00" x2="286.0" y2="315.00"/>
<line x1="313.0" y1="223.33" x2="299.5" y2="223.33"/>
<line x1="313.0" y1="131.67" x2="286.0" y2="131.67"/>
<line x1="313.0" y1="40.00" x2="299.5" y2="40.00"/>
<line x1="481.40" y1="40.0" x2="481.40" y2="53.5"/>
<line x1="649.80" y1="40.0" x2="649.80" y2="67.0"/>
<line x1="818.20" y1="40.0" x2="818.20" y2="53.5"/>
<line x1="986.60" y1="40.0" x2="986.60" y2="67.0"/>
<line x1="1155.00" y1="40.0" x2="1155.00" y2="53.5"/>
<line x1="1323.40" y1="40.0" x2="1323.40" y2="67.0"/>
<line x1="1491.80" y1="40.0" x2="1491.80" y2="53.5"/>
<line x1="1660.20" y1="40.0" x2="1660.20" y2="67.0"/>
<line x1="1828.60" y1="40.0" x2="1828.60" y2="53.5"/>
<line x1="1997.0" y1="1277.50" x2="1983.5" y2="1277.50"/>
<line x1="1997.0" y1="1140.00" x2="1970.0" y2="1140.00"/>
<line x1="1997.0" y1="1002.50" x2="1983.5" y2="1002.50"/>
<line x1="1997.0" y1="865.00" x2="1970.0" y2="865.00"/>
<line x1="1997.0" y1="727.50" x2="1983.5" y2="727.50"/>
<line x1="1997.0" y1="590.00" x2="1970.0" y2="590.00"/>
<line x1="1997.0" y1="452.50" x2="1983.5" y2="452.50"/>
<line x1="1997.0" y1="315.00" x2="1970.0" y2="315.00"/>
<line x1="1997.0" y1="177.50" x2="1983.5" y2="177.50"/>
</g>
<line x1="300" y1="312.5" x2="1978" y2="312.5" stroke="#FF800E" stroke-width="3" stroke-dasharray="2.75 1"/>
<line x1="1970" y1="315.00" x2="2000" y2="315.00" stroke="#000" stroke-width="6"/>
<line x1="1288.0" y1="346.0" x2="1288.0" y2="784.3" stroke="#0000FF" stroke-width="2.1" stroke-dasharray="2.7 1.3"/>
<polygon points="1288.0,311.0 1278.8,347.0 1297.2,347.0" fill="#0000FF"/>
<line x1="1471.5" y1="346.0" x2="1471.5" y2="861.0" stroke="#4CAF50" stroke-width="3.1" stroke-dasharray="2.7 1.3"/>
<polygon points="1471.5,311.0 1462.2,347.0 1480.8,347.0" fill="#4CAF50"/>
<line x1="1640.5" y1="363.0" x2="1640.5" y2="913.7" stroke="#FF0000" stroke-width="3.0" stroke-dasharray="2.7 1.3"/>
<polygon points="1640.5,328.0 1631.2,364.0 1649.8,364.0" fill="#FF0000"/>
<line x1="1819.5" y1="353.0" x2="1819.5" y2="1267.5" stroke="#000000" stroke-width="3.0" stroke-dasharray="2.7 1.3"/>
<polygon points="1819.5,318.0 1810.2,354.0 1828.8,354.0" fill="#000000"/>
<g font-family="'Liberation Sans', Arial, Helvetica, sans-serif" style="font-kerning:none" stroke-width="0.4" stroke-linejoin="round">
<text transform="translate(396.26 1507.00) scale(0.9570 1)" font-size="60.50" fill="#000" stroke="#000">0</text>
<text transform="translate(562.17 1507.00) scale(0.9570 1)" font-size="60.50" fill="#000" stroke="#000">100</text>
<rect transform="translate(562.17 1507.00) scale(0.9570 1)" x="3.03" y="-5.75" width="12.13" height="9.07" fill="#fff"/>
<rect transform="translate(562.17 1507.00) scale(0.9570 1)" x="20.69" y="-5.75" width="11.37" height="9.07" fill="#fff"/>
<text transform="translate(760.29 1507.00) scale(0.9570 1)" font-size="60.50" fill="#000" stroke="#000">200</text>
<text transform="translate(958.41 1507.00) scale(0.9570 1)" font-size="60.50" fill="#000" stroke="#000">300</text>
<text transform="translate(1156.53 1507.00) scale(0.9570 1)" font-size="60.50" fill="#000" stroke="#000">400</text>
<text transform="translate(1354.64 1507.00) scale(0.9570 1)" font-size="60.50" fill="#000" stroke="#000">500</text>
<text transform="translate(1552.76 1507.00) scale(0.9570 1)" font-size="60.50" fill="#000" stroke="#000">600</text>
<text transform="translate(1750.88 1507.00) scale(0.9570 1)" font-size="60.50" fill="#000" stroke="#000">700</text>
<text transform="translate(1949.00 1507.00) scale(0.9570 1)" font-size="60.50" fill="#000" stroke="#000">800</text>
<text transform="translate(203.18 1433.10) scale(0.9570 1)" font-size="60.50" fill="#000" stroke="#000">94</text>
<text transform="translate(204.05 1249.77) scale(0.9570 1)" font-size="60.50" fill="#000" stroke="#000">95</text>
<text transform="translate(204.05 1066.43) scale(0.9570 1)" font-size="60.50" fill="#000" stroke="#000">96</text>
<text transform="translate(204.63 883.10) scale(0.9570 1)" font-size="60.50" fill="#000" stroke="#000">97</text>
<text transform="translate(204.05 699.77) scale(0.9570 1)" font-size="60.50" fill="#000" stroke="#000">98</text>
<text transform="translate(204.34 516.43) scale(0.9570 1)" font-size="60.50" fill="#000" stroke="#000">99</text>
<text transform="translate(171.63 333.10) scale(0.9570 1)" font-size="60.50" fill="#000" stroke="#000">100</text>
<rect transform="translate(171.63 333.10) scale(0.9570 1)" x="3.03" y="-5.75" width="12.13" height="9.07" fill="#fff"/>
<rect transform="translate(171.63 333.10) scale(0.9570 1)" x="20.69" y="-5.75" width="11.37" height="9.07" fill="#fff"/>
<text transform="translate(173.20 149.77) scale(0.9570 1)" font-size="60.50" fill="#000" stroke="#000">101</text>
<rect transform="translate(173.20 149.77) scale(0.9570 1)" x="3.03" y="-5.75" width="12.13" height="9.07" fill="#fff"/>
<rect transform="translate(173.20 149.77) scale(0.9570 1)" x="20.69" y="-5.75" width="11.37" height="9.07" fill="#fff"/>
<rect transform="translate(173.20 149.77) scale(0.9570 1)" x="70.33" y="-5.75" width="12.13" height="9.07" fill="#fff"/>
<rect transform="translate(173.20 149.77) scale(0.9570 1)" x="87.99" y="-5.75" width="11.37" height="9.07" fill="#fff"/>
<text transform="translate(880.14 1617.10) scale(0.9575 1)" font-size="73.40" fill="#000" stroke="#000">Temperature (°C)</text>
<text transform="translate(95.10 950.75) rotate(-90) scale(0.9655 1)" font-size="73.40" fill="#000" stroke="#000">Weight loss (%)</text>
<text transform="translate(1171.52 546.60) scale(0.9210 1)" font-size="49.60" fill="#0000FF" stroke="#0000FF">2.6%</text>
<text transform="translate(1344.62 493.60) scale(0.9210 1)" font-size="49.60" fill="#4CAF50" stroke="#4CAF50">2.9%</text>
<text transform="translate(1509.98 460.60) scale(0.9418 1)" font-size="48.30" fill="#FF0000" stroke="#FF0000">3.2%</text>
<text transform="translate(1692.27 417.50) scale(0.9440 1)" font-size="48.50" fill="#000000" stroke="#000000">5.4%</text>
</g>
<rect x="1561.3" y="81.2" width="412.0" height="206.3" fill="#fff" stroke="#000" stroke-width="3"/>
<g font-family="'Liberation Sans', Arial, Helvetica, sans-serif" style="font-kerning:none" stroke-width="0.3" stroke-linejoin="round">
<line x1="1566.2" y1="110.0" x2="1654.6" y2="110.0" stroke="#515151" stroke-width="6" stroke-linecap="round"/>
<text transform="translate(1666.39 123.80) scale(0.9258 1)" font-size="43.30" fill="#000000" stroke="#000000">HZSM-5</text>
<line x1="1566.2" y1="160.1" x2="1654.6" y2="160.1" stroke="#F14040" stroke-width="6" stroke-linecap="round"/>
<text transform="translate(1667.20 174.00) scale(0.9215 1)" font-size="43.30" fill="#FF0000" stroke="#FF0000">5% Ce/HZSM-5</text>
<line x1="1566.2" y1="210.3" x2="1654.6" y2="210.3" stroke="#1A6FDF" stroke-width="6" stroke-linecap="round"/>
<text transform="translate(1667.41 224.10) scale(0.9207 1)" font-size="43.30" fill="#0000FF" stroke="#0000FF">10% Ce/HZSM-5</text>
<rect transform="translate(1667.41 224.10) scale(0.9207 1)" x="2.17" y="-4.11" width="8.68" height="6.49" fill="#fff"/>
<rect transform="translate(1667.41 224.10) scale(0.9207 1)" x="14.81" y="-4.11" width="8.14" height="6.49" fill="#fff"/>
<line x1="1566.2" y1="260.3" x2="1654.6" y2="260.3" stroke="#37AD6B" stroke-width="6" stroke-linecap="round"/>
<text transform="translate(1667.41 273.90) scale(0.9207 1)" font-size="43.30" fill="#008000" stroke="#008000">15% Ce/HZSM-5</text>
<rect transform="translate(1667.41 273.90) scale(0.9207 1)" x="2.17" y="-4.11" width="8.68" height="6.49" fill="#fff"/>
<rect transform="translate(1667.41 273.90) scale(0.9207 1)" x="14.81" y="-4.11" width="8.14" height="6.49" fill="#fff"/>
</g>
</svg>
</body>
</html>
